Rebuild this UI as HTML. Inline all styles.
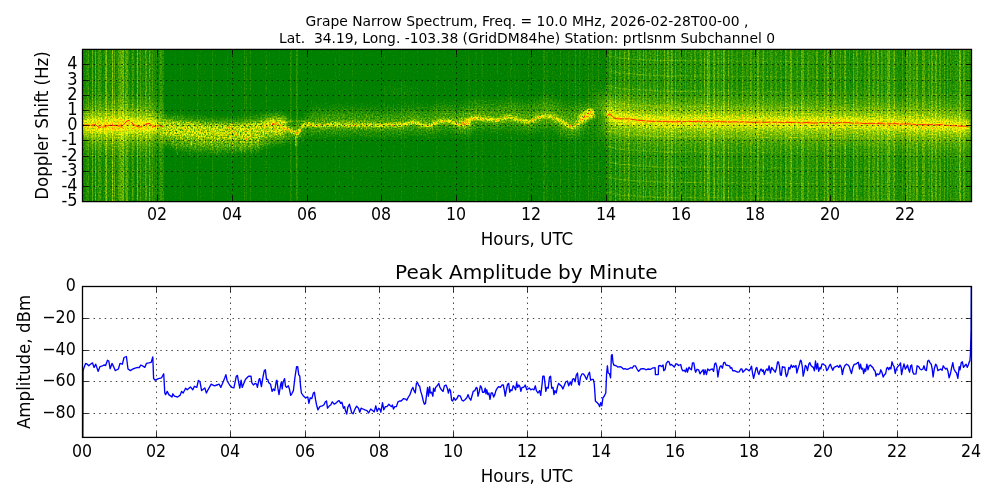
<!DOCTYPE html>
<html lang="en"><head><meta charset="utf-8"><title>Grape Narrow Spectrum</title>
<style>html,body{margin:0;padding:0;background:#fff;overflow:hidden}svg{display:block;will-change:transform}text{font-family:"DejaVu Sans","Liberation Sans",sans-serif;fill:#000}.t10{font-size:13.86px}.t12{font-size:16.67px}.t14{font-size:20px}.grid{stroke:#000;stroke-width:0.75;stroke-dasharray:1.39 4.17;fill:none}.tick{stroke:#000;stroke-width:0.8;fill:none}.spine{stroke:#000;stroke-width:1.3;fill:none}</style></head><body>
<svg width="1000" height="500" viewBox="0 0 1000 500">
<rect width="1000" height="500" fill="#fff"/>
<text class="t10" transform="translate(527.00,25.80)" text-anchor="middle" xml:space="preserve">Grape Narrow Spectrum, Freq. = 10.0 MHz, 2026-02-28T00-00 ,</text>
<text class="t10" transform="translate(527.00,42.80)" text-anchor="middle" xml:space="preserve">Lat.  34.19, Long. -103.38 (GridDM84he) Station: prtlsnm Subchannel 0</text>
<defs>
<clipPath id="c1"><rect x="82" y="49" width="890" height="153"/></clipPath>
<filter id="b1" x="52" y="19" width="950" height="213" filterUnits="userSpaceOnUse" color-interpolation-filters="sRGB"><feGaussianBlur stdDeviation="0.7"/></filter>
<filter id="b2" x="52" y="19" width="950" height="213" filterUnits="userSpaceOnUse" color-interpolation-filters="sRGB"><feGaussianBlur stdDeviation="1.8"/></filter>
<filter id="b3" x="52" y="19" width="950" height="213" filterUnits="userSpaceOnUse" color-interpolation-filters="sRGB"><feGaussianBlur stdDeviation="4.0"/></filter>
<filter id="b4" x="52" y="19" width="950" height="213" filterUnits="userSpaceOnUse" color-interpolation-filters="sRGB"><feGaussianBlur stdDeviation="7.5"/></filter>
<filter id="gr" x="82" y="49" width="890" height="153" filterUnits="userSpaceOnUse" color-interpolation-filters="sRGB"><feTurbulence type="fractalNoise" baseFrequency="0.62 0.55" numOctaves="2" seed="9" result="t"/><feColorMatrix in="t" type="matrix" values="0 0 0 0 1  0 0 0 0 1  0 0 0 0 1  1.6 0 0 0 -0.1" result="na"/><feComposite in="SourceGraphic" in2="na" operator="in"/></filter>
<filter id="cm" x="82" y="49" width="890" height="153" filterUnits="userSpaceOnUse" color-interpolation-filters="sRGB">
<feTurbulence type="fractalNoise" baseFrequency="0.71 0.67" numOctaves="1" seed="5" result="t"/>
<feColorMatrix in="t" type="matrix" values="1 0 0 0 0  1 0 0 0 0  1 0 0 0 0  0 0 0 0 1" result="n"/>
<feComposite in="SourceGraphic" in2="n" operator="arithmetic" k1="1.300" k2="0.350" k3="0.170" k4="-0.107" result="v"/>
<feComponentTransfer in="v"><feFuncR type="table" tableValues="0 0.5 1 1 1"/><feFuncG type="table" tableValues="0.502 0.75 1 0.5 0"/><feFuncB type="table" tableValues="0 0 0 0 0"/><feFuncA type="linear" slope="0" intercept="1"/></feComponentTransfer>
</filter>
</defs>
<g id="spec" clip-path="url(#c1)"><g filter="url(#cm)">
<rect x="80" y="47" width="894" height="157" fill="#000"/>
<rect x="82" y="49" width="1" height="153" fill="#0c0c0c"/>
<rect x="83" y="49" width="1" height="153" fill="#101010"/>
<rect x="84" y="49" width="2" height="153" fill="#0f0f0f"/>
<rect x="86" y="49" width="1" height="153" fill="#181818"/>
<rect x="87" y="49" width="1" height="153" fill="#171717"/>
<rect x="88" y="49" width="1" height="153" fill="#222222"/>
<rect x="89" y="49" width="1" height="153" fill="#060606"/>
<rect x="90" y="49" width="2" height="153" fill="#0d0d0d"/>
<rect x="92" y="49" width="1" height="153" fill="#343434"/>
<rect x="93" y="49" width="1" height="153" fill="#0e0e0e"/>
<rect x="94" y="49" width="1" height="153" fill="#0d0d0d"/>
<rect x="95" y="49" width="1" height="153" fill="#363636"/>
<rect x="96" y="49" width="1" height="153" fill="#0f0f0f"/>
<rect x="97" y="49" width="1" height="153" fill="#121212"/>
<rect x="98" y="49" width="1" height="153" fill="#232323"/>
<rect x="99" y="49" width="1" height="153" fill="#252525"/>
<rect x="100" y="49" width="1" height="153" fill="#232323"/>
<rect x="101" y="49" width="1" height="153" fill="#171717"/>
<rect x="102" y="49" width="1" height="153" fill="#090909"/>
<rect x="103" y="49" width="2" height="153" fill="#131313"/>
<rect x="105" y="49" width="1" height="153" fill="#333333"/>
<rect x="106" y="49" width="1" height="153" fill="#444444"/>
<rect x="107" y="49" width="1" height="153" fill="#131313"/>
<rect x="108" y="49" width="1" height="153" fill="#141414"/>
<rect x="109" y="49" width="1" height="153" fill="#161616"/>
<rect x="110" y="49" width="1" height="153" fill="#171717"/>
<rect x="111" y="49" width="1" height="153" fill="#161616"/>
<rect x="112" y="49" width="1" height="153" fill="#484848"/>
<rect x="113" y="49" width="1" height="153" fill="#131313"/>
<rect x="114" y="49" width="1" height="153" fill="#303030"/>
<rect x="115" y="49" width="1" height="153" fill="#0d0d0d"/>
<rect x="116" y="49" width="1" height="153" fill="#181818"/>
<rect x="117" y="49" width="1" height="153" fill="#171717"/>
<rect x="118" y="49" width="1" height="153" fill="#262626"/>
<rect x="119" y="49" width="1" height="153" fill="#2a2a2a"/>
<rect x="120" y="49" width="1" height="153" fill="#323232"/>
<rect x="121" y="49" width="1" height="153" fill="#333333"/>
<rect x="122" y="49" width="1" height="153" fill="#393939"/>
<rect x="123" y="49" width="1" height="153" fill="#3f3f3f"/>
<rect x="124" y="49" width="1" height="153" fill="#121212"/>
<rect x="125" y="49" width="1" height="153" fill="#272727"/>
<rect x="126" y="49" width="1" height="153" fill="#323232"/>
<rect x="127" y="49" width="1" height="153" fill="#303030"/>
<rect x="128" y="49" width="1" height="153" fill="#171717"/>
<rect x="129" y="49" width="1" height="153" fill="#131313"/>
<rect x="130" y="49" width="1" height="153" fill="#090909"/>
<rect x="131" y="49" width="1" height="153" fill="#131313"/>
<rect x="132" y="49" width="1" height="153" fill="#272727"/>
<rect x="133" y="49" width="1" height="153" fill="#1e1e1e"/>
<rect x="134" y="49" width="1" height="153" fill="#0e0e0e"/>
<rect x="135" y="49" width="1" height="153" fill="#040404"/>
<rect x="136" y="49" width="1" height="153" fill="#121212"/>
<rect x="137" y="49" width="1" height="153" fill="#3f3f3f"/>
<rect x="138" y="49" width="1" height="153" fill="#121212"/>
<rect x="139" y="49" width="1" height="153" fill="#131313"/>
<rect x="140" y="49" width="1" height="153" fill="#282828"/>
<rect x="141" y="49" width="1" height="153" fill="#101010"/>
<rect x="142" y="49" width="1" height="153" fill="#141414"/>
<rect x="143" y="49" width="1" height="153" fill="#171717"/>
<rect x="144" y="49" width="1" height="153" fill="#121212"/>
<rect x="145" y="49" width="1" height="153" fill="#2b2b2b"/>
<rect x="146" y="49" width="1" height="153" fill="#292929"/>
<rect x="147" y="49" width="1" height="153" fill="#111111"/>
<rect x="148" y="49" width="1" height="153" fill="#101010"/>
<rect x="149" y="49" width="1" height="153" fill="#353535"/>
<rect x="150" y="49" width="1" height="153" fill="#1d1d1d"/>
<rect x="151" y="49" width="1" height="153" fill="#141414"/>
<rect x="152" y="49" width="1" height="153" fill="#262626"/>
<rect x="153" y="49" width="1" height="153" fill="#0f0f0f"/>
<rect x="154" y="49" width="1" height="153" fill="#171717"/>
<rect x="155" y="49" width="1" height="153" fill="#0f0f0f"/>
<rect x="156" y="49" width="1" height="153" fill="#141414"/>
<rect x="157" y="49" width="2" height="153" fill="#090909"/>
<rect x="159" y="49" width="1" height="153" fill="#191919"/>
<rect x="160" y="49" width="1" height="153" fill="#212121"/>
<rect x="161" y="49" width="1" height="153" fill="#202020"/>
<rect x="162" y="49" width="1" height="153" fill="#171717"/>
<rect x="163" y="49" width="1" height="153" fill="#151515"/>
<rect x="164" y="49" width="1" height="153" fill="#030303"/>
<rect x="165" y="49" width="1" height="153" fill="#020202"/>
<rect x="166" y="49" width="2" height="153" fill="#010101"/>
<rect x="168" y="49" width="1" height="153" fill="#020202"/>
<rect x="169" y="49" width="1" height="153" fill="#010101"/>
<rect x="170" y="49" width="2" height="153" fill="#030303"/>
<rect x="172" y="49" width="1" height="153" fill="#020202"/>
<rect x="173" y="49" width="1" height="153" fill="#010101"/>
<rect x="174" y="49" width="1" height="153" fill="#030303"/>
<rect x="175" y="49" width="1" height="153" fill="#080808"/>
<rect x="176" y="49" width="2" height="153" fill="#020202"/>
<rect x="178" y="49" width="1" height="153" fill="#030303"/>
<rect x="179" y="49" width="1" height="153" fill="#020202"/>
<rect x="180" y="49" width="1" height="153" fill="#090909"/>
<rect x="181" y="49" width="1" height="153" fill="#020202"/>
<rect x="182" y="49" width="1" height="153" fill="#0a0a0a"/>
<rect x="183" y="49" width="1" height="153" fill="#020202"/>
<rect x="184" y="49" width="1" height="153" fill="#030303"/>
<rect x="185" y="49" width="2" height="153" fill="#020202"/>
<rect x="187" y="49" width="1" height="153" fill="#010101"/>
<rect x="188" y="49" width="1" height="153" fill="#030303"/>
<rect x="189" y="49" width="1" height="153" fill="#010101"/>
<rect x="190" y="49" width="1" height="153" fill="#030303"/>
<rect x="191" y="49" width="1" height="153" fill="#020202"/>
<rect x="192" y="49" width="1" height="153" fill="#060606"/>
<rect x="193" y="49" width="1" height="153" fill="#030303"/>
<rect x="194" y="49" width="2" height="153" fill="#010101"/>
<rect x="196" y="49" width="1" height="153" fill="#030303"/>
<rect x="197" y="49" width="1" height="153" fill="#0c0c0c"/>
<rect x="198" y="49" width="1" height="153" fill="#080808"/>
<rect x="199" y="49" width="1" height="153" fill="#010101"/>
<rect x="200" y="49" width="1" height="153" fill="#090909"/>
<rect x="201" y="49" width="2" height="153" fill="#020202"/>
<rect x="203" y="49" width="2" height="153" fill="#030303"/>
<rect x="205" y="49" width="1" height="153" fill="#060606"/>
<rect x="206" y="49" width="1" height="153" fill="#020202"/>
<rect x="207" y="49" width="1" height="153" fill="#010101"/>
<rect x="208" y="49" width="1" height="153" fill="#020202"/>
<rect x="209" y="49" width="1" height="153" fill="#010101"/>
<rect x="210" y="49" width="2" height="153" fill="#020202"/>
<rect x="212" y="49" width="1" height="153" fill="#101010"/>
<rect x="213" y="49" width="2" height="153" fill="#020202"/>
<rect x="215" y="49" width="1" height="153" fill="#030303"/>
<rect x="216" y="49" width="1" height="153" fill="#020202"/>
<rect x="217" y="49" width="1" height="153" fill="#030303"/>
<rect x="218" y="49" width="1" height="153" fill="#020202"/>
<rect x="219" y="49" width="2" height="153" fill="#010101"/>
<rect x="221" y="49" width="1" height="153" fill="#030303"/>
<rect x="222" y="49" width="1" height="153" fill="#010101"/>
<rect x="223" y="49" width="2" height="153" fill="#030303"/>
<rect x="225" y="49" width="1" height="153" fill="#020202"/>
<rect x="226" y="49" width="1" height="153" fill="#010101"/>
<rect x="227" y="49" width="1" height="153" fill="#0c0c0c"/>
<rect x="228" y="49" width="1" height="153" fill="#020202"/>
<rect x="229" y="49" width="1" height="153" fill="#030303"/>
<rect x="230" y="49" width="1" height="153" fill="#010101"/>
<rect x="231" y="49" width="2" height="153" fill="#090909"/>
<rect x="233" y="49" width="1" height="153" fill="#020202"/>
<rect x="234" y="49" width="1" height="153" fill="#010101"/>
<rect x="235" y="49" width="3" height="153" fill="#020202"/>
<rect x="238" y="49" width="1" height="153" fill="#010101"/>
<rect x="239" y="49" width="2" height="153" fill="#020202"/>
<rect x="241" y="49" width="1" height="153" fill="#090909"/>
<rect x="242" y="49" width="1" height="153" fill="#010101"/>
<rect x="243" y="49" width="1" height="153" fill="#020202"/>
<rect x="244" y="49" width="1" height="153" fill="#151515"/>
<rect x="245" y="49" width="1" height="153" fill="#030303"/>
<rect x="246" y="49" width="1" height="153" fill="#101010"/>
<rect x="247" y="49" width="1" height="153" fill="#030303"/>
<rect x="248" y="49" width="1" height="153" fill="#020202"/>
<rect x="249" y="49" width="1" height="153" fill="#030303"/>
<rect x="250" y="49" width="1" height="153" fill="#131313"/>
<rect x="251" y="49" width="10" height="153" fill="#020202"/>
<rect x="261" y="49" width="1" height="153" fill="#070707"/>
<rect x="262" y="49" width="1" height="153" fill="#020202"/>
<rect x="263" y="49" width="1" height="153" fill="#010101"/>
<rect x="264" y="49" width="1" height="153" fill="#030303"/>
<rect x="265" y="49" width="1" height="153" fill="#090909"/>
<rect x="266" y="49" width="1" height="153" fill="#0f0f0f"/>
<rect x="267" y="49" width="2" height="153" fill="#020202"/>
<rect x="269" y="49" width="1" height="153" fill="#090909"/>
<rect x="270" y="49" width="1" height="153" fill="#010101"/>
<rect x="271" y="49" width="2" height="153" fill="#020202"/>
<rect x="273" y="49" width="1" height="153" fill="#030303"/>
<rect x="274" y="49" width="1" height="153" fill="#010101"/>
<rect x="275" y="49" width="3" height="153" fill="#020202"/>
<rect x="278" y="49" width="1" height="153" fill="#010101"/>
<rect x="279" y="49" width="1" height="153" fill="#060606"/>
<rect x="280" y="49" width="4" height="153" fill="#020202"/>
<rect x="284" y="49" width="2" height="153" fill="#030303"/>
<rect x="286" y="49" width="2" height="153" fill="#010101"/>
<rect x="288" y="49" width="1" height="153" fill="#020202"/>
<rect x="289" y="49" width="1" height="153" fill="#030303"/>
<rect x="290" y="49" width="1" height="153" fill="#151515"/>
<rect x="291" y="49" width="1" height="153" fill="#0e0e0e"/>
<rect x="292" y="49" width="2" height="153" fill="#010101"/>
<rect x="294" y="49" width="2" height="153" fill="#020202"/>
<rect x="296" y="49" width="1" height="153" fill="#1a1a1a"/>
<rect x="297" y="49" width="1" height="153" fill="#131313"/>
<rect x="298" y="49" width="1" height="153" fill="#010101"/>
<rect x="299" y="49" width="2" height="153" fill="#020202"/>
<rect x="301" y="49" width="3" height="153" fill="#010101"/>
<rect x="304" y="49" width="4" height="153" fill="#020202"/>
<rect x="308" y="49" width="1" height="153" fill="#010101"/>
<rect x="309" y="49" width="1" height="153" fill="#020202"/>
<rect x="310" y="49" width="1" height="153" fill="#010101"/>
<rect x="311" y="49" width="1" height="153" fill="#060606"/>
<rect x="312" y="49" width="1" height="153" fill="#020202"/>
<rect x="313" y="49" width="1" height="153" fill="#030303"/>
<rect x="314" y="49" width="3" height="153" fill="#020202"/>
<rect x="317" y="49" width="1" height="153" fill="#010101"/>
<rect x="318" y="49" width="1" height="153" fill="#020202"/>
<rect x="319" y="49" width="2" height="153" fill="#030303"/>
<rect x="321" y="49" width="2" height="153" fill="#010101"/>
<rect x="323" y="49" width="1" height="153" fill="#030303"/>
<rect x="324" y="49" width="1" height="153" fill="#020202"/>
<rect x="325" y="49" width="1" height="153" fill="#030303"/>
<rect x="326" y="49" width="4" height="153" fill="#020202"/>
<rect x="330" y="49" width="1" height="153" fill="#010101"/>
<rect x="331" y="49" width="1" height="153" fill="#020202"/>
<rect x="332" y="49" width="2" height="153" fill="#030303"/>
<rect x="334" y="49" width="1" height="153" fill="#020202"/>
<rect x="335" y="49" width="1" height="153" fill="#090909"/>
<rect x="336" y="49" width="1" height="153" fill="#030303"/>
<rect x="337" y="49" width="2" height="153" fill="#020202"/>
<rect x="339" y="49" width="1" height="153" fill="#090909"/>
<rect x="340" y="49" width="1" height="153" fill="#030303"/>
<rect x="341" y="49" width="1" height="153" fill="#020202"/>
<rect x="342" y="49" width="1" height="153" fill="#050505"/>
<rect x="343" y="49" width="2" height="153" fill="#020202"/>
<rect x="345" y="49" width="1" height="153" fill="#010101"/>
<rect x="346" y="49" width="1" height="153" fill="#020202"/>
<rect x="347" y="49" width="1" height="153" fill="#070707"/>
<rect x="348" y="49" width="1" height="153" fill="#020202"/>
<rect x="349" y="49" width="1" height="153" fill="#030303"/>
<rect x="350" y="49" width="2" height="153" fill="#020202"/>
<rect x="352" y="49" width="1" height="153" fill="#0b0b0b"/>
<rect x="353" y="49" width="2" height="153" fill="#020202"/>
<rect x="355" y="49" width="1" height="153" fill="#030303"/>
<rect x="356" y="49" width="2" height="153" fill="#020202"/>
<rect x="358" y="49" width="2" height="153" fill="#010101"/>
<rect x="360" y="49" width="1" height="153" fill="#020202"/>
<rect x="361" y="49" width="1" height="153" fill="#060606"/>
<rect x="362" y="49" width="1" height="153" fill="#020202"/>
<rect x="363" y="49" width="1" height="153" fill="#010101"/>
<rect x="364" y="49" width="1" height="153" fill="#030303"/>
<rect x="365" y="49" width="1" height="153" fill="#010101"/>
<rect x="366" y="49" width="1" height="153" fill="#030303"/>
<rect x="367" y="49" width="2" height="153" fill="#020202"/>
<rect x="369" y="49" width="2" height="153" fill="#030303"/>
<rect x="371" y="49" width="1" height="153" fill="#020202"/>
<rect x="372" y="49" width="1" height="153" fill="#030303"/>
<rect x="373" y="49" width="1" height="153" fill="#010101"/>
<rect x="374" y="49" width="1" height="153" fill="#030303"/>
<rect x="375" y="49" width="3" height="153" fill="#020202"/>
<rect x="378" y="49" width="1" height="153" fill="#010101"/>
<rect x="379" y="49" width="1" height="153" fill="#030303"/>
<rect x="380" y="49" width="1" height="153" fill="#020202"/>
<rect x="381" y="49" width="2" height="153" fill="#010101"/>
<rect x="383" y="49" width="1" height="153" fill="#020202"/>
<rect x="384" y="49" width="1" height="153" fill="#080808"/>
<rect x="385" y="49" width="1" height="153" fill="#010101"/>
<rect x="386" y="49" width="2" height="153" fill="#020202"/>
<rect x="388" y="49" width="1" height="153" fill="#010101"/>
<rect x="389" y="49" width="1" height="153" fill="#030303"/>
<rect x="390" y="49" width="3" height="153" fill="#020202"/>
<rect x="393" y="49" width="1" height="153" fill="#070707"/>
<rect x="394" y="49" width="1" height="153" fill="#030303"/>
<rect x="395" y="49" width="1" height="153" fill="#010101"/>
<rect x="396" y="49" width="1" height="153" fill="#020202"/>
<rect x="397" y="49" width="1" height="153" fill="#030303"/>
<rect x="398" y="49" width="1" height="153" fill="#010101"/>
<rect x="399" y="49" width="1" height="153" fill="#020202"/>
<rect x="400" y="49" width="1" height="153" fill="#030303"/>
<rect x="401" y="49" width="1" height="153" fill="#0b0b0b"/>
<rect x="402" y="49" width="2" height="153" fill="#020202"/>
<rect x="404" y="49" width="1" height="153" fill="#080808"/>
<rect x="405" y="49" width="1" height="153" fill="#020202"/>
<rect x="406" y="49" width="1" height="153" fill="#030303"/>
<rect x="407" y="49" width="1" height="153" fill="#020202"/>
<rect x="408" y="49" width="1" height="153" fill="#010101"/>
<rect x="409" y="49" width="1" height="153" fill="#020202"/>
<rect x="410" y="49" width="1" height="153" fill="#030303"/>
<rect x="411" y="49" width="2" height="153" fill="#020202"/>
<rect x="413" y="49" width="1" height="153" fill="#080808"/>
<rect x="414" y="49" width="1" height="153" fill="#010101"/>
<rect x="415" y="49" width="2" height="153" fill="#020202"/>
<rect x="417" y="49" width="1" height="153" fill="#0a0a0a"/>
<rect x="418" y="49" width="1" height="153" fill="#010101"/>
<rect x="419" y="49" width="1" height="153" fill="#030303"/>
<rect x="420" y="49" width="1" height="153" fill="#010101"/>
<rect x="421" y="49" width="1" height="153" fill="#030303"/>
<rect x="422" y="49" width="1" height="153" fill="#020202"/>
<rect x="423" y="49" width="1" height="153" fill="#030303"/>
<rect x="424" y="49" width="1" height="153" fill="#020202"/>
<rect x="425" y="49" width="1" height="153" fill="#010101"/>
<rect x="426" y="49" width="2" height="153" fill="#030303"/>
<rect x="428" y="49" width="1" height="153" fill="#020202"/>
<rect x="429" y="49" width="1" height="153" fill="#030303"/>
<rect x="430" y="49" width="2" height="153" fill="#020202"/>
<rect x="432" y="49" width="2" height="153" fill="#030303"/>
<rect x="434" y="49" width="2" height="153" fill="#020202"/>
<rect x="436" y="49" width="1" height="153" fill="#0a0a0a"/>
<rect x="437" y="49" width="1" height="153" fill="#060606"/>
<rect x="438" y="49" width="3" height="153" fill="#030303"/>
<rect x="441" y="49" width="3" height="153" fill="#020202"/>
<rect x="444" y="49" width="1" height="153" fill="#080808"/>
<rect x="445" y="49" width="2" height="153" fill="#030303"/>
<rect x="447" y="49" width="1" height="153" fill="#040404"/>
<rect x="448" y="49" width="1" height="153" fill="#020202"/>
<rect x="449" y="49" width="3" height="153" fill="#030303"/>
<rect x="452" y="49" width="1" height="153" fill="#040404"/>
<rect x="453" y="49" width="1" height="153" fill="#030303"/>
<rect x="454" y="49" width="1" height="153" fill="#060606"/>
<rect x="455" y="49" width="1" height="153" fill="#070707"/>
<rect x="456" y="49" width="2" height="153" fill="#020202"/>
<rect x="458" y="49" width="4" height="153" fill="#030303"/>
<rect x="462" y="49" width="1" height="153" fill="#040404"/>
<rect x="463" y="49" width="2" height="153" fill="#030303"/>
<rect x="465" y="49" width="1" height="153" fill="#0a0a0a"/>
<rect x="466" y="49" width="1" height="153" fill="#030303"/>
<rect x="467" y="49" width="1" height="153" fill="#040404"/>
<rect x="468" y="49" width="1" height="153" fill="#0e0e0e"/>
<rect x="469" y="49" width="1" height="153" fill="#090909"/>
<rect x="470" y="49" width="5" height="153" fill="#040404"/>
<rect x="475" y="49" width="1" height="153" fill="#0c0c0c"/>
<rect x="476" y="49" width="1" height="153" fill="#0b0b0b"/>
<rect x="477" y="49" width="3" height="153" fill="#030303"/>
<rect x="480" y="49" width="1" height="153" fill="#040404"/>
<rect x="481" y="49" width="1" height="153" fill="#080808"/>
<rect x="482" y="49" width="1" height="153" fill="#0e0e0e"/>
<rect x="483" y="49" width="1" height="153" fill="#050505"/>
<rect x="484" y="49" width="1" height="153" fill="#030303"/>
<rect x="485" y="49" width="1" height="153" fill="#040404"/>
<rect x="486" y="49" width="1" height="153" fill="#050505"/>
<rect x="487" y="49" width="1" height="153" fill="#030303"/>
<rect x="488" y="49" width="2" height="153" fill="#040404"/>
<rect x="490" y="49" width="2" height="153" fill="#050505"/>
<rect x="492" y="49" width="1" height="153" fill="#040404"/>
<rect x="493" y="49" width="1" height="153" fill="#050505"/>
<rect x="494" y="49" width="3" height="153" fill="#040404"/>
<rect x="497" y="49" width="1" height="153" fill="#0c0c0c"/>
<rect x="498" y="49" width="1" height="153" fill="#050505"/>
<rect x="499" y="49" width="2" height="153" fill="#040404"/>
<rect x="501" y="49" width="2" height="153" fill="#050505"/>
<rect x="503" y="49" width="2" height="153" fill="#040404"/>
<rect x="505" y="49" width="2" height="153" fill="#050505"/>
<rect x="507" y="49" width="1" height="153" fill="#040404"/>
<rect x="508" y="49" width="1" height="153" fill="#050505"/>
<rect x="509" y="49" width="1" height="153" fill="#040404"/>
<rect x="510" y="49" width="1" height="153" fill="#0d0d0d"/>
<rect x="511" y="49" width="1" height="153" fill="#0c0c0c"/>
<rect x="512" y="49" width="1" height="153" fill="#040404"/>
<rect x="513" y="49" width="1" height="153" fill="#050505"/>
<rect x="514" y="49" width="1" height="153" fill="#060606"/>
<rect x="515" y="49" width="1" height="153" fill="#0a0a0a"/>
<rect x="516" y="49" width="1" height="153" fill="#040404"/>
<rect x="517" y="49" width="1" height="153" fill="#0a0a0a"/>
<rect x="518" y="49" width="1" height="153" fill="#060606"/>
<rect x="519" y="49" width="3" height="153" fill="#050505"/>
<rect x="522" y="49" width="1" height="153" fill="#060606"/>
<rect x="523" y="49" width="5" height="153" fill="#050505"/>
<rect x="528" y="49" width="1" height="153" fill="#0d0d0d"/>
<rect x="529" y="49" width="1" height="153" fill="#050505"/>
<rect x="530" y="49" width="1" height="153" fill="#060606"/>
<rect x="531" y="49" width="1" height="153" fill="#050505"/>
<rect x="532" y="49" width="2" height="153" fill="#060606"/>
<rect x="534" y="49" width="1" height="153" fill="#070707"/>
<rect x="535" y="49" width="1" height="153" fill="#060606"/>
<rect x="536" y="49" width="1" height="153" fill="#050505"/>
<rect x="537" y="49" width="1" height="153" fill="#070707"/>
<rect x="538" y="49" width="2" height="153" fill="#060606"/>
<rect x="540" y="49" width="1" height="153" fill="#070707"/>
<rect x="541" y="49" width="1" height="153" fill="#050505"/>
<rect x="542" y="49" width="1" height="153" fill="#060606"/>
<rect x="543" y="49" width="1" height="153" fill="#131313"/>
<rect x="544" y="49" width="1" height="153" fill="#141414"/>
<rect x="545" y="49" width="1" height="153" fill="#060606"/>
<rect x="546" y="49" width="1" height="153" fill="#0e0e0e"/>
<rect x="547" y="49" width="1" height="153" fill="#0d0d0d"/>
<rect x="548" y="49" width="1" height="153" fill="#080808"/>
<rect x="549" y="49" width="1" height="153" fill="#060606"/>
<rect x="550" y="49" width="1" height="153" fill="#070707"/>
<rect x="551" y="49" width="1" height="153" fill="#060606"/>
<rect x="552" y="49" width="1" height="153" fill="#0e0e0e"/>
<rect x="553" y="49" width="1" height="153" fill="#060606"/>
<rect x="554" y="49" width="2" height="153" fill="#080808"/>
<rect x="556" y="49" width="1" height="153" fill="#060606"/>
<rect x="557" y="49" width="3" height="153" fill="#070707"/>
<rect x="560" y="49" width="1" height="153" fill="#131313"/>
<rect x="561" y="49" width="1" height="153" fill="#060606"/>
<rect x="562" y="49" width="1" height="153" fill="#080808"/>
<rect x="563" y="49" width="2" height="153" fill="#070707"/>
<rect x="565" y="49" width="2" height="153" fill="#080808"/>
<rect x="567" y="49" width="1" height="153" fill="#070707"/>
<rect x="568" y="49" width="1" height="153" fill="#121212"/>
<rect x="569" y="49" width="1" height="153" fill="#090909"/>
<rect x="570" y="49" width="4" height="153" fill="#080808"/>
<rect x="574" y="49" width="1" height="153" fill="#090909"/>
<rect x="575" y="49" width="1" height="153" fill="#181818"/>
<rect x="576" y="49" width="1" height="153" fill="#070707"/>
<rect x="577" y="49" width="2" height="153" fill="#080808"/>
<rect x="579" y="49" width="1" height="153" fill="#121212"/>
<rect x="580" y="49" width="1" height="153" fill="#0d0d0d"/>
<rect x="581" y="49" width="4" height="153" fill="#080808"/>
<rect x="585" y="49" width="2" height="153" fill="#090909"/>
<rect x="587" y="49" width="1" height="153" fill="#080808"/>
<rect x="588" y="49" width="1" height="153" fill="#171717"/>
<rect x="589" y="49" width="2" height="153" fill="#090909"/>
<rect x="591" y="49" width="1" height="153" fill="#0a0a0a"/>
<rect x="592" y="49" width="1" height="153" fill="#131313"/>
<rect x="593" y="49" width="1" height="153" fill="#0a0a0a"/>
<rect x="594" y="49" width="1" height="153" fill="#080808"/>
<rect x="595" y="49" width="2" height="153" fill="#0a0a0a"/>
<rect x="597" y="49" width="1" height="153" fill="#080808"/>
<rect x="598" y="49" width="1" height="153" fill="#131313"/>
<rect x="599" y="49" width="1" height="153" fill="#0a0a0a"/>
<rect x="600" y="49" width="1" height="153" fill="#090909"/>
<rect x="601" y="49" width="1" height="153" fill="#080808"/>
<rect x="602" y="49" width="1" height="153" fill="#0a0a0a"/>
<rect x="603" y="49" width="2" height="153" fill="#090909"/>
<rect x="605" y="49" width="1" height="153" fill="#080808"/>
<rect x="606" y="49" width="1" height="153" fill="#171717"/>
<rect x="607" y="49" width="1" height="153" fill="#101010"/>
<rect x="608" y="49" width="1" height="153" fill="#0f0f0f"/>
<rect x="609" y="49" width="1" height="153" fill="#232323"/>
<rect x="610" y="49" width="1" height="153" fill="#222222"/>
<rect x="611" y="49" width="1" height="153" fill="#212121"/>
<rect x="612" y="49" width="1" height="153" fill="#0e0e0e"/>
<rect x="613" y="49" width="1" height="153" fill="#121212"/>
<rect x="614" y="49" width="1" height="153" fill="#0e0e0e"/>
<rect x="615" y="49" width="1" height="153" fill="#303030"/>
<rect x="616" y="49" width="1" height="153" fill="#151515"/>
<rect x="617" y="49" width="1" height="153" fill="#141414"/>
<rect x="618" y="49" width="1" height="153" fill="#131313"/>
<rect x="619" y="49" width="1" height="153" fill="#282828"/>
<rect x="620" y="49" width="1" height="153" fill="#202020"/>
<rect x="621" y="49" width="2" height="153" fill="#151515"/>
<rect x="623" y="49" width="1" height="153" fill="#161616"/>
<rect x="624" y="49" width="1" height="153" fill="#2e2e2e"/>
<rect x="625" y="49" width="2" height="153" fill="#181818"/>
<rect x="627" y="49" width="1" height="153" fill="#171717"/>
<rect x="628" y="49" width="1" height="153" fill="#323232"/>
<rect x="629" y="49" width="1" height="153" fill="#2b2b2b"/>
<rect x="630" y="49" width="2" height="153" fill="#0f0f0f"/>
<rect x="632" y="49" width="1" height="153" fill="#181818"/>
<rect x="633" y="49" width="2" height="153" fill="#1d1d1d"/>
<rect x="635" y="49" width="1" height="153" fill="#141414"/>
<rect x="636" y="49" width="1" height="153" fill="#111111"/>
<rect x="637" y="49" width="1" height="153" fill="#292929"/>
<rect x="638" y="49" width="1" height="153" fill="#171717"/>
<rect x="639" y="49" width="2" height="153" fill="#232323"/>
<rect x="641" y="49" width="1" height="153" fill="#151515"/>
<rect x="642" y="49" width="1" height="153" fill="#141414"/>
<rect x="643" y="49" width="1" height="153" fill="#313131"/>
<rect x="644" y="49" width="1" height="153" fill="#111111"/>
<rect x="645" y="49" width="1" height="153" fill="#232323"/>
<rect x="646" y="49" width="1" height="153" fill="#242424"/>
<rect x="647" y="49" width="1" height="153" fill="#111111"/>
<rect x="648" y="49" width="1" height="153" fill="#131313"/>
<rect x="649" y="49" width="1" height="153" fill="#242424"/>
<rect x="650" y="49" width="1" height="153" fill="#232323"/>
<rect x="651" y="49" width="1" height="153" fill="#141414"/>
<rect x="652" y="49" width="1" height="153" fill="#151515"/>
<rect x="653" y="49" width="1" height="153" fill="#1d1d1d"/>
<rect x="654" y="49" width="1" height="153" fill="#252525"/>
<rect x="655" y="49" width="1" height="153" fill="#1f1f1f"/>
<rect x="656" y="49" width="1" height="153" fill="#151515"/>
<rect x="657" y="49" width="1" height="153" fill="#323232"/>
<rect x="658" y="49" width="1" height="153" fill="#131313"/>
<rect x="659" y="49" width="1" height="153" fill="#121212"/>
<rect x="660" y="49" width="1" height="153" fill="#242424"/>
<rect x="661" y="49" width="1" height="153" fill="#161616"/>
<rect x="662" y="49" width="1" height="153" fill="#141414"/>
<rect x="663" y="49" width="1" height="153" fill="#161616"/>
<rect x="664" y="49" width="1" height="153" fill="#363636"/>
<rect x="665" y="49" width="1" height="153" fill="#131313"/>
<rect x="666" y="49" width="1" height="153" fill="#151515"/>
<rect x="667" y="49" width="1" height="153" fill="#353535"/>
<rect x="668" y="49" width="1" height="153" fill="#313131"/>
<rect x="669" y="49" width="1" height="153" fill="#1a1a1a"/>
<rect x="670" y="49" width="1" height="153" fill="#181818"/>
<rect x="671" y="49" width="1" height="153" fill="#363636"/>
<rect x="672" y="49" width="1" height="153" fill="#2d2d2d"/>
<rect x="673" y="49" width="1" height="153" fill="#101010"/>
<rect x="674" y="49" width="1" height="153" fill="#0e0e0e"/>
<rect x="675" y="49" width="1" height="153" fill="#323232"/>
<rect x="676" y="49" width="1" height="153" fill="#151515"/>
<rect x="677" y="49" width="1" height="153" fill="#181818"/>
<rect x="678" y="49" width="1" height="153" fill="#191919"/>
<rect x="679" y="49" width="1" height="153" fill="#1f1f1f"/>
<rect x="680" y="49" width="1" height="153" fill="#232323"/>
<rect x="681" y="49" width="1" height="153" fill="#1e1e1e"/>
<rect x="682" y="49" width="1" height="153" fill="#151515"/>
<rect x="683" y="49" width="1" height="153" fill="#161616"/>
<rect x="684" y="49" width="1" height="153" fill="#121212"/>
<rect x="685" y="49" width="1" height="153" fill="#292929"/>
<rect x="686" y="49" width="1" height="153" fill="#161616"/>
<rect x="687" y="49" width="1" height="153" fill="#181818"/>
<rect x="688" y="49" width="1" height="153" fill="#171717"/>
<rect x="689" y="49" width="1" height="153" fill="#151515"/>
<rect x="690" y="49" width="1" height="153" fill="#1f1f1f"/>
<rect x="691" y="49" width="1" height="153" fill="#222222"/>
<rect x="692" y="49" width="1" height="153" fill="#131313"/>
<rect x="693" y="49" width="1" height="153" fill="#0f0f0f"/>
<rect x="694" y="49" width="1" height="153" fill="#282828"/>
<rect x="695" y="49" width="1" height="153" fill="#2b2b2b"/>
<rect x="696" y="49" width="2" height="153" fill="#141414"/>
<rect x="698" y="49" width="1" height="153" fill="#151515"/>
<rect x="699" y="49" width="1" height="153" fill="#1d1d1d"/>
<rect x="700" y="49" width="1" height="153" fill="#262626"/>
<rect x="701" y="49" width="1" height="153" fill="#212121"/>
<rect x="702" y="49" width="2" height="153" fill="#121212"/>
<rect x="704" y="49" width="1" height="153" fill="#393939"/>
<rect x="705" y="49" width="1" height="153" fill="#181818"/>
<rect x="706" y="49" width="1" height="153" fill="#191919"/>
<rect x="707" y="49" width="1" height="153" fill="#3b3b3b"/>
<rect x="708" y="49" width="2" height="153" fill="#323232"/>
<rect x="710" y="49" width="2" height="153" fill="#131313"/>
<rect x="712" y="49" width="1" height="153" fill="#121212"/>
<rect x="713" y="49" width="1" height="153" fill="#2f2f2f"/>
<rect x="714" y="49" width="1" height="153" fill="#393939"/>
<rect x="715" y="49" width="1" height="153" fill="#121212"/>
<rect x="716" y="49" width="1" height="153" fill="#111111"/>
<rect x="717" y="49" width="1" height="153" fill="#282828"/>
<rect x="718" y="49" width="1" height="153" fill="#2a2a2a"/>
<rect x="719" y="49" width="1" height="153" fill="#191919"/>
<rect x="720" y="49" width="1" height="153" fill="#151515"/>
<rect x="721" y="49" width="1" height="153" fill="#262626"/>
<rect x="722" y="49" width="1" height="153" fill="#161616"/>
<rect x="723" y="49" width="1" height="153" fill="#3c3c3c"/>
<rect x="724" y="49" width="1" height="153" fill="#323232"/>
<rect x="725" y="49" width="2" height="153" fill="#121212"/>
<rect x="727" y="49" width="1" height="153" fill="#0f0f0f"/>
<rect x="728" y="49" width="1" height="153" fill="#353535"/>
<rect x="729" y="49" width="1" height="153" fill="#131313"/>
<rect x="730" y="49" width="1" height="153" fill="#121212"/>
<rect x="731" y="49" width="1" height="153" fill="#242424"/>
<rect x="732" y="49" width="1" height="153" fill="#232323"/>
<rect x="733" y="49" width="2" height="153" fill="#141414"/>
<rect x="735" y="49" width="1" height="153" fill="#111111"/>
<rect x="736" y="49" width="2" height="153" fill="#212121"/>
<rect x="738" y="49" width="1" height="153" fill="#101010"/>
<rect x="739" y="49" width="1" height="153" fill="#111111"/>
<rect x="740" y="49" width="1" height="153" fill="#121212"/>
<rect x="741" y="49" width="1" height="153" fill="#141414"/>
<rect x="742" y="49" width="1" height="153" fill="#303030"/>
<rect x="743" y="49" width="1" height="153" fill="#171717"/>
<rect x="744" y="49" width="2" height="153" fill="#181818"/>
<rect x="746" y="49" width="1" height="153" fill="#191919"/>
<rect x="747" y="49" width="1" height="153" fill="#222222"/>
<rect x="748" y="49" width="1" height="153" fill="#171717"/>
<rect x="749" y="49" width="1" height="153" fill="#161616"/>
<rect x="750" y="49" width="1" height="153" fill="#2e2e2e"/>
<rect x="751" y="49" width="1" height="153" fill="#282828"/>
<rect x="752" y="49" width="1" height="153" fill="#161616"/>
<rect x="753" y="49" width="1" height="153" fill="#171717"/>
<rect x="754" y="49" width="1" height="153" fill="#222222"/>
<rect x="755" y="49" width="1" height="153" fill="#1f1f1f"/>
<rect x="756" y="49" width="1" height="153" fill="#141414"/>
<rect x="757" y="49" width="1" height="153" fill="#333333"/>
<rect x="758" y="49" width="1" height="153" fill="#323232"/>
<rect x="759" y="49" width="3" height="153" fill="#161616"/>
<rect x="762" y="49" width="1" height="153" fill="#292929"/>
<rect x="763" y="49" width="1" height="153" fill="#303030"/>
<rect x="764" y="49" width="2" height="153" fill="#141414"/>
<rect x="766" y="49" width="1" height="153" fill="#171717"/>
<rect x="767" y="49" width="1" height="153" fill="#212121"/>
<rect x="768" y="49" width="1" height="153" fill="#131313"/>
<rect x="769" y="49" width="1" height="153" fill="#141414"/>
<rect x="770" y="49" width="1" height="153" fill="#202020"/>
<rect x="771" y="49" width="1" height="153" fill="#262626"/>
<rect x="772" y="49" width="1" height="153" fill="#1e1e1e"/>
<rect x="773" y="49" width="1" height="153" fill="#121212"/>
<rect x="774" y="49" width="1" height="153" fill="#131313"/>
<rect x="775" y="49" width="1" height="153" fill="#232323"/>
<rect x="776" y="49" width="1" height="153" fill="#222222"/>
<rect x="777" y="49" width="1" height="153" fill="#161616"/>
<rect x="778" y="49" width="1" height="153" fill="#151515"/>
<rect x="779" y="49" width="1" height="153" fill="#121212"/>
<rect x="780" y="49" width="1" height="153" fill="#232323"/>
<rect x="781" y="49" width="1" height="153" fill="#202020"/>
<rect x="782" y="49" width="1" height="153" fill="#0f0f0f"/>
<rect x="783" y="49" width="1" height="153" fill="#101010"/>
<rect x="784" y="49" width="1" height="153" fill="#0e0e0e"/>
<rect x="785" y="49" width="1" height="153" fill="#313131"/>
<rect x="786" y="49" width="1" height="153" fill="#252525"/>
<rect x="787" y="49" width="1" height="153" fill="#161616"/>
<rect x="788" y="49" width="1" height="153" fill="#181818"/>
<rect x="789" y="49" width="1" height="153" fill="#1b1b1b"/>
<rect x="790" y="49" width="1" height="153" fill="#323232"/>
<rect x="791" y="49" width="1" height="153" fill="#383838"/>
<rect x="792" y="49" width="2" height="153" fill="#171717"/>
<rect x="794" y="49" width="1" height="153" fill="#141414"/>
<rect x="795" y="49" width="1" height="153" fill="#151515"/>
<rect x="796" y="49" width="1" height="153" fill="#1f1f1f"/>
<rect x="797" y="49" width="1" height="153" fill="#252525"/>
<rect x="798" y="49" width="1" height="153" fill="#131313"/>
<rect x="799" y="49" width="1" height="153" fill="#151515"/>
<rect x="800" y="49" width="1" height="153" fill="#131313"/>
<rect x="801" y="49" width="1" height="153" fill="#353535"/>
<rect x="802" y="49" width="1" height="153" fill="#303030"/>
<rect x="803" y="49" width="1" height="153" fill="#2f2f2f"/>
<rect x="804" y="49" width="1" height="153" fill="#121212"/>
<rect x="805" y="49" width="1" height="153" fill="#151515"/>
<rect x="806" y="49" width="1" height="153" fill="#131313"/>
<rect x="807" y="49" width="1" height="153" fill="#242424"/>
<rect x="808" y="49" width="1" height="153" fill="#262626"/>
<rect x="809" y="49" width="1" height="153" fill="#1a1a1a"/>
<rect x="810" y="49" width="1" height="153" fill="#191919"/>
<rect x="811" y="49" width="1" height="153" fill="#181818"/>
<rect x="812" y="49" width="1" height="153" fill="#1f1f1f"/>
<rect x="813" y="49" width="1" height="153" fill="#1d1d1d"/>
<rect x="814" y="49" width="1" height="153" fill="#131313"/>
<rect x="815" y="49" width="1" height="153" fill="#141414"/>
<rect x="816" y="49" width="1" height="153" fill="#313131"/>
<rect x="817" y="49" width="1" height="153" fill="#2c2c2c"/>
<rect x="818" y="49" width="1" height="153" fill="#121212"/>
<rect x="819" y="49" width="1" height="153" fill="#0e0e0e"/>
<rect x="820" y="49" width="1" height="153" fill="#181818"/>
<rect x="821" y="49" width="1" height="153" fill="#141414"/>
<rect x="822" y="49" width="1" height="153" fill="#151515"/>
<rect x="823" y="49" width="1" height="153" fill="#161616"/>
<rect x="824" y="49" width="1" height="153" fill="#313131"/>
<rect x="825" y="49" width="2" height="153" fill="#181818"/>
<rect x="827" y="49" width="1" height="153" fill="#353535"/>
<rect x="828" y="49" width="1" height="153" fill="#323232"/>
<rect x="829" y="49" width="1" height="153" fill="#0e0e0e"/>
<rect x="830" y="49" width="1" height="153" fill="#191919"/>
<rect x="831" y="49" width="1" height="153" fill="#151515"/>
<rect x="832" y="49" width="1" height="153" fill="#141414"/>
<rect x="833" y="49" width="1" height="153" fill="#353535"/>
<rect x="834" y="49" width="1" height="153" fill="#323232"/>
<rect x="835" y="49" width="1" height="153" fill="#101010"/>
<rect x="836" y="49" width="1" height="153" fill="#222222"/>
<rect x="837" y="49" width="1" height="153" fill="#131313"/>
<rect x="838" y="49" width="2" height="153" fill="#161616"/>
<rect x="840" y="49" width="1" height="153" fill="#2b2b2b"/>
<rect x="841" y="49" width="1" height="153" fill="#111111"/>
<rect x="842" y="49" width="1" height="153" fill="#141414"/>
<rect x="843" y="49" width="1" height="153" fill="#111111"/>
<rect x="844" y="49" width="1" height="153" fill="#2f2f2f"/>
<rect x="845" y="49" width="1" height="153" fill="#353535"/>
<rect x="846" y="49" width="2" height="153" fill="#131313"/>
<rect x="848" y="49" width="1" height="153" fill="#121212"/>
<rect x="849" y="49" width="1" height="153" fill="#1c1c1c"/>
<rect x="850" y="49" width="1" height="153" fill="#0f0f0f"/>
<rect x="851" y="49" width="1" height="153" fill="#111111"/>
<rect x="852" y="49" width="1" height="153" fill="#101010"/>
<rect x="853" y="49" width="1" height="153" fill="#333333"/>
<rect x="854" y="49" width="2" height="153" fill="#171717"/>
<rect x="856" y="49" width="2" height="153" fill="#292929"/>
<rect x="858" y="49" width="1" height="153" fill="#151515"/>
<rect x="859" y="49" width="1" height="153" fill="#121212"/>
<rect x="860" y="49" width="1" height="153" fill="#1b1b1b"/>
<rect x="861" y="49" width="1" height="153" fill="#1a1a1a"/>
<rect x="862" y="49" width="2" height="153" fill="#101010"/>
<rect x="864" y="49" width="1" height="153" fill="#232323"/>
<rect x="865" y="49" width="1" height="153" fill="#1f1f1f"/>
<rect x="866" y="49" width="2" height="153" fill="#171717"/>
<rect x="868" y="49" width="1" height="153" fill="#2b2b2b"/>
<rect x="869" y="49" width="1" height="153" fill="#303030"/>
<rect x="870" y="49" width="1" height="153" fill="#131313"/>
<rect x="871" y="49" width="1" height="153" fill="#101010"/>
<rect x="872" y="49" width="1" height="153" fill="#252525"/>
<rect x="873" y="49" width="1" height="153" fill="#292929"/>
<rect x="874" y="49" width="1" height="153" fill="#272727"/>
<rect x="875" y="49" width="1" height="153" fill="#161616"/>
<rect x="876" y="49" width="1" height="153" fill="#151515"/>
<rect x="877" y="49" width="1" height="153" fill="#333333"/>
<rect x="878" y="49" width="1" height="153" fill="#2f2f2f"/>
<rect x="879" y="49" width="1" height="153" fill="#0f0f0f"/>
<rect x="880" y="49" width="1" height="153" fill="#131313"/>
<rect x="881" y="49" width="1" height="153" fill="#2b2b2b"/>
<rect x="882" y="49" width="1" height="153" fill="#252525"/>
<rect x="883" y="49" width="1" height="153" fill="#151515"/>
<rect x="884" y="49" width="1" height="153" fill="#141414"/>
<rect x="885" y="49" width="1" height="153" fill="#222222"/>
<rect x="886" y="49" width="1" height="153" fill="#1a1a1a"/>
<rect x="887" y="49" width="1" height="153" fill="#313131"/>
<rect x="888" y="49" width="1" height="153" fill="#333333"/>
<rect x="889" y="49" width="1" height="153" fill="#3a3a3a"/>
<rect x="890" y="49" width="1" height="153" fill="#171717"/>
<rect x="891" y="49" width="1" height="153" fill="#191919"/>
<rect x="892" y="49" width="1" height="153" fill="#181818"/>
<rect x="893" y="49" width="1" height="153" fill="#2a2a2a"/>
<rect x="894" y="49" width="1" height="153" fill="#343434"/>
<rect x="895" y="49" width="1" height="153" fill="#131313"/>
<rect x="896" y="49" width="1" height="153" fill="#161616"/>
<rect x="897" y="49" width="1" height="153" fill="#181818"/>
<rect x="898" y="49" width="1" height="153" fill="#101010"/>
<rect x="899" y="49" width="1" height="153" fill="#131313"/>
<rect x="900" y="49" width="1" height="153" fill="#111111"/>
<rect x="901" y="49" width="1" height="153" fill="#101010"/>
<rect x="902" y="49" width="1" height="153" fill="#272727"/>
<rect x="903" y="49" width="1" height="153" fill="#121212"/>
<rect x="904" y="49" width="1" height="153" fill="#0f0f0f"/>
<rect x="905" y="49" width="1" height="153" fill="#111111"/>
<rect x="906" y="49" width="1" height="153" fill="#2c2c2c"/>
<rect x="907" y="49" width="1" height="153" fill="#2a2a2a"/>
<rect x="908" y="49" width="1" height="153" fill="#151515"/>
<rect x="909" y="49" width="1" height="153" fill="#292929"/>
<rect x="910" y="49" width="1" height="153" fill="#2d2d2d"/>
<rect x="911" y="49" width="1" height="153" fill="#181818"/>
<rect x="912" y="49" width="1" height="153" fill="#1a1a1a"/>
<rect x="913" y="49" width="1" height="153" fill="#272727"/>
<rect x="914" y="49" width="1" height="153" fill="#222222"/>
<rect x="915" y="49" width="1" height="153" fill="#151515"/>
<rect x="916" y="49" width="1" height="153" fill="#373737"/>
<rect x="917" y="49" width="1" height="153" fill="#343434"/>
<rect x="918" y="49" width="1" height="153" fill="#121212"/>
<rect x="919" y="49" width="1" height="153" fill="#141414"/>
<rect x="920" y="49" width="1" height="153" fill="#121212"/>
<rect x="921" y="49" width="1" height="153" fill="#131313"/>
<rect x="922" y="49" width="1" height="153" fill="#303030"/>
<rect x="923" y="49" width="1" height="153" fill="#2f2f2f"/>
<rect x="924" y="49" width="1" height="153" fill="#2d2d2d"/>
<rect x="925" y="49" width="1" height="153" fill="#151515"/>
<rect x="926" y="49" width="1" height="153" fill="#141414"/>
<rect x="927" y="49" width="1" height="153" fill="#151515"/>
<rect x="928" y="49" width="1" height="153" fill="#222222"/>
<rect x="929" y="49" width="1" height="153" fill="#272727"/>
<rect x="930" y="49" width="1" height="153" fill="#101010"/>
<rect x="931" y="49" width="1" height="153" fill="#2e2e2e"/>
<rect x="932" y="49" width="1" height="153" fill="#313131"/>
<rect x="933" y="49" width="1" height="153" fill="#161616"/>
<rect x="934" y="49" width="1" height="153" fill="#181818"/>
<rect x="935" y="49" width="1" height="153" fill="#2e2e2e"/>
<rect x="936" y="49" width="1" height="153" fill="#333333"/>
<rect x="937" y="49" width="1" height="153" fill="#121212"/>
<rect x="938" y="49" width="1" height="153" fill="#131313"/>
<rect x="939" y="49" width="1" height="153" fill="#282828"/>
<rect x="940" y="49" width="1" height="153" fill="#2c2c2c"/>
<rect x="941" y="49" width="1" height="153" fill="#0f0f0f"/>
<rect x="942" y="49" width="2" height="153" fill="#131313"/>
<rect x="944" y="49" width="1" height="153" fill="#2b2b2b"/>
<rect x="945" y="49" width="1" height="153" fill="#101010"/>
<rect x="946" y="49" width="1" height="153" fill="#0d0d0d"/>
<rect x="947" y="49" width="1" height="153" fill="#272727"/>
<rect x="948" y="49" width="1" height="153" fill="#131313"/>
<rect x="949" y="49" width="1" height="153" fill="#121212"/>
<rect x="950" y="49" width="1" height="153" fill="#222222"/>
<rect x="951" y="49" width="2" height="153" fill="#151515"/>
<rect x="953" y="49" width="2" height="153" fill="#161616"/>
<rect x="955" y="49" width="1" height="153" fill="#1e1e1e"/>
<rect x="956" y="49" width="1" height="153" fill="#1b1b1b"/>
<rect x="957" y="49" width="1" height="153" fill="#202020"/>
<rect x="958" y="49" width="1" height="153" fill="#161616"/>
<rect x="959" y="49" width="2" height="153" fill="#3a3a3a"/>
<rect x="961" y="49" width="1" height="153" fill="#131313"/>
<rect x="962" y="49" width="1" height="153" fill="#111111"/>
<rect x="963" y="49" width="1" height="153" fill="#2d2d2d"/>
<rect x="964" y="49" width="1" height="153" fill="#2a2a2a"/>
<rect x="965" y="49" width="1" height="153" fill="#171717"/>
<rect x="966" y="49" width="1" height="153" fill="#161616"/>
<rect x="967" y="49" width="1" height="153" fill="#171717"/>
<rect x="968" y="49" width="1" height="153" fill="#1f1f1f"/>
<rect x="969" y="49" width="1" height="153" fill="#121212"/>
<rect x="970" y="49" width="1" height="153" fill="#131313"/>
<rect x="971" y="49" width="1" height="153" fill="#252525"/>
<polyline points="80.0,125.5 120.0,125.5 159.0,126.0" fill="none" stroke="#fff" stroke-width="50.0" stroke-opacity="0.070" stroke-linecap="butt" stroke-linejoin="round" filter="url(#b4)"/>
<polyline points="80.0,125.5 120.0,125.5 159.0,126.0" fill="none" stroke="#fff" stroke-width="32.0" stroke-opacity="0.120" stroke-linecap="butt" stroke-linejoin="round" filter="url(#b4)"/>
<polyline points="80.0,125.5 120.0,125.5 159.0,126.0" fill="none" stroke="#fff" stroke-width="22.0" stroke-opacity="0.170" stroke-linecap="butt" stroke-linejoin="round" filter="url(#b3)"/>
<polyline points="80.0,125.5 120.0,125.5 159.0,126.0" fill="none" stroke="#fff" stroke-width="13.0" stroke-opacity="0.180" stroke-linecap="butt" stroke-linejoin="round" filter="url(#b2)"/>
<polyline points="83.0,125.0 88.0,125.0 92.0,125.4 95.0,124.6 98.0,126.6 100.0,127.4 104.0,127.0 107.0,126.0 110.0,125.4 113.0,125.6 116.0,125.4 120.0,126.0 123.0,125.4 125.0,123.0 127.0,121.0 129.0,120.4 131.0,122.0 133.0,124.0 136.0,126.0 139.0,127.0 142.0,126.6 145.0,125.0 148.0,123.4 150.0,123.6 151.6,125.4 152.4,127.2 154.0,126.6 157.0,126.0 160.0,125.6 163.0,126.6" fill="none" stroke="#fff" stroke-width="4.0" stroke-opacity="0.100" stroke-linecap="butt" stroke-linejoin="round" filter="url(#b1)"/>
<polyline points="607.6,116.0 609.0,114.0 611.0,115.0 613.0,117.4 616.0,118.6 620.0,119.0 624.0,118.6 630.0,119.0 636.0,120.0 642.0,120.6 648.0,121.0 654.0,121.4 660.0,121.4 664.0,121.4 668.3,121.3 673.3,121.8 676.4,121.9 680.8,121.3 684.5,121.5 688.6,121.3 692.7,121.5 697.1,121.3 700.3,121.2 705.2,121.8 708.3,121.6 711.9,122.0 715.9,121.7 720.2,121.7 724.6,121.8 728.6,122.1 732.8,121.9 735.9,121.8 740.0,122.2 743.6,121.6 746.7,122.1 750.4,122.2 754.4,122.4 758.3,122.1 761.6,122.1 764.8,122.4 768.6,122.1 772.3,122.2 776.4,122.2 780.5,122.4 783.9,122.8 788.0,122.3 792.2,122.5 796.9,122.2 800.1,123.0 803.2,122.7 807.3,122.6 812.1,123.0 816.4,123.0 821.2,122.4 825.3,122.8 828.6,122.5 831.7,123.1 835.7,123.2 840.2,122.6 844.7,122.6 849.6,122.6 852.6,123.3 856.7,123.0 860.0,123.0 864.0,123.6 867.4,123.4 872.1,123.3 876.1,123.6 880.2,123.5 883.7,123.9 887.6,124.0 891.6,123.7 894.8,123.6 899.7,124.0 903.2,124.0 906.5,124.0 910.4,124.0 915.0,124.5 918.3,124.8 921.9,124.4 926.7,124.8 931.3,124.5 934.5,125.1 939.0,124.6 943.5,124.9 948.2,125.6 951.4,125.8 955.1,125.7 959.1,126.2 963.5,126.2 966.5,126.3 969.9,126.0" fill="none" stroke="#fff" stroke-width="50.0" stroke-opacity="0.065" stroke-linecap="butt" stroke-linejoin="round" filter="url(#b4)"/>
<polyline points="607.6,116.0 609.0,114.0 611.0,115.0 613.0,117.4 616.0,118.6 620.0,119.0 624.0,118.6 630.0,119.0 636.0,120.0 642.0,120.6 648.0,121.0 654.0,121.4 660.0,121.4 664.0,121.4 668.3,121.3 673.3,121.8 676.4,121.9 680.8,121.3 684.5,121.5 688.6,121.3 692.7,121.5 697.1,121.3 700.3,121.2 705.2,121.8 708.3,121.6 711.9,122.0 715.9,121.7 720.2,121.7 724.6,121.8 728.6,122.1 732.8,121.9 735.9,121.8 740.0,122.2 743.6,121.6 746.7,122.1 750.4,122.2 754.4,122.4 758.3,122.1 761.6,122.1 764.8,122.4 768.6,122.1 772.3,122.2 776.4,122.2 780.5,122.4 783.9,122.8 788.0,122.3 792.2,122.5 796.9,122.2 800.1,123.0 803.2,122.7 807.3,122.6 812.1,123.0 816.4,123.0 821.2,122.4 825.3,122.8 828.6,122.5 831.7,123.1 835.7,123.2 840.2,122.6 844.7,122.6 849.6,122.6 852.6,123.3 856.7,123.0 860.0,123.0 864.0,123.6 867.4,123.4 872.1,123.3 876.1,123.6 880.2,123.5 883.7,123.9 887.6,124.0 891.6,123.7 894.8,123.6 899.7,124.0 903.2,124.0 906.5,124.0 910.4,124.0 915.0,124.5 918.3,124.8 921.9,124.4 926.7,124.8 931.3,124.5 934.5,125.1 939.0,124.6 943.5,124.9 948.2,125.6 951.4,125.8 955.1,125.7 959.1,126.2 963.5,126.2 966.5,126.3 969.9,126.0" fill="none" stroke="#fff" stroke-width="32.0" stroke-opacity="0.100" stroke-linecap="butt" stroke-linejoin="round" filter="url(#b4)"/>
<polyline points="607.6,116.0 609.0,114.0 611.0,115.0 613.0,117.4 616.0,118.6 620.0,119.0 624.0,118.6 630.0,119.0 636.0,120.0 642.0,120.6 648.0,121.0 654.0,121.4 660.0,121.4 664.0,121.4 668.3,121.3 673.3,121.8 676.4,121.9 680.8,121.3 684.5,121.5 688.6,121.3 692.7,121.5 697.1,121.3 700.3,121.2 705.2,121.8 708.3,121.6 711.9,122.0 715.9,121.7 720.2,121.7 724.6,121.8 728.6,122.1 732.8,121.9 735.9,121.8 740.0,122.2 743.6,121.6 746.7,122.1 750.4,122.2 754.4,122.4 758.3,122.1 761.6,122.1 764.8,122.4 768.6,122.1 772.3,122.2 776.4,122.2 780.5,122.4 783.9,122.8 788.0,122.3 792.2,122.5 796.9,122.2 800.1,123.0 803.2,122.7 807.3,122.6 812.1,123.0 816.4,123.0 821.2,122.4 825.3,122.8 828.6,122.5 831.7,123.1 835.7,123.2 840.2,122.6 844.7,122.6 849.6,122.6 852.6,123.3 856.7,123.0 860.0,123.0 864.0,123.6 867.4,123.4 872.1,123.3 876.1,123.6 880.2,123.5 883.7,123.9 887.6,124.0 891.6,123.7 894.8,123.6 899.7,124.0 903.2,124.0 906.5,124.0 910.4,124.0 915.0,124.5 918.3,124.8 921.9,124.4 926.7,124.8 931.3,124.5 934.5,125.1 939.0,124.6 943.5,124.9 948.2,125.6 951.4,125.8 955.1,125.7 959.1,126.2 963.5,126.2 966.5,126.3 969.9,126.0" fill="none" stroke="#fff" stroke-width="22.0" stroke-opacity="0.140" stroke-linecap="butt" stroke-linejoin="round" filter="url(#b3)"/>
<polyline points="607.6,116.0 609.0,114.0 611.0,115.0 613.0,117.4 616.0,118.6 620.0,119.0 624.0,118.6 630.0,119.0 636.0,120.0 642.0,120.6 648.0,121.0 654.0,121.4 660.0,121.4 664.0,121.4 668.3,121.3 673.3,121.8 676.4,121.9 680.8,121.3 684.5,121.5 688.6,121.3 692.7,121.5 697.1,121.3 700.3,121.2 705.2,121.8 708.3,121.6 711.9,122.0 715.9,121.7 720.2,121.7 724.6,121.8 728.6,122.1 732.8,121.9 735.9,121.8 740.0,122.2 743.6,121.6 746.7,122.1 750.4,122.2 754.4,122.4 758.3,122.1 761.6,122.1 764.8,122.4 768.6,122.1 772.3,122.2 776.4,122.2 780.5,122.4 783.9,122.8 788.0,122.3 792.2,122.5 796.9,122.2 800.1,123.0 803.2,122.7 807.3,122.6 812.1,123.0 816.4,123.0 821.2,122.4 825.3,122.8 828.6,122.5 831.7,123.1 835.7,123.2 840.2,122.6 844.7,122.6 849.6,122.6 852.6,123.3 856.7,123.0 860.0,123.0 864.0,123.6 867.4,123.4 872.1,123.3 876.1,123.6 880.2,123.5 883.7,123.9 887.6,124.0 891.6,123.7 894.8,123.6 899.7,124.0 903.2,124.0 906.5,124.0 910.4,124.0 915.0,124.5 918.3,124.8 921.9,124.4 926.7,124.8 931.3,124.5 934.5,125.1 939.0,124.6 943.5,124.9 948.2,125.6 951.4,125.8 955.1,125.7 959.1,126.2 963.5,126.2 966.5,126.3 969.9,126.0" fill="none" stroke="#fff" stroke-width="11.0" stroke-opacity="0.170" stroke-linecap="butt" stroke-linejoin="round" filter="url(#b2)"/>
<polyline points="607.6,116.0 609.0,114.0 611.0,115.0 613.0,117.4 616.0,118.6 620.0,119.0 624.0,118.6 630.0,119.0 636.0,120.0 642.0,120.6 648.0,121.0 654.0,121.4 660.0,121.4 664.0,121.4 668.3,121.3 673.3,121.8 676.4,121.9 680.8,121.3 684.5,121.5 688.6,121.3 692.7,121.5 697.1,121.3 700.3,121.2 705.2,121.8 708.3,121.6 711.9,122.0 715.9,121.7 720.2,121.7 724.6,121.8 728.6,122.1 732.8,121.9 735.9,121.8 740.0,122.2 743.6,121.6 746.7,122.1 750.4,122.2 754.4,122.4 758.3,122.1 761.6,122.1 764.8,122.4 768.6,122.1 772.3,122.2 776.4,122.2 780.5,122.4 783.9,122.8 788.0,122.3 792.2,122.5 796.9,122.2 800.1,123.0 803.2,122.7 807.3,122.6 812.1,123.0 816.4,123.0 821.2,122.4 825.3,122.8 828.6,122.5 831.7,123.1 835.7,123.2 840.2,122.6 844.7,122.6 849.6,122.6 852.6,123.3 856.7,123.0 860.0,123.0 864.0,123.6 867.4,123.4 872.1,123.3 876.1,123.6 880.2,123.5 883.7,123.9 887.6,124.0 891.6,123.7 894.8,123.6 899.7,124.0 903.2,124.0 906.5,124.0 910.4,124.0 915.0,124.5 918.3,124.8 921.9,124.4 926.7,124.8 931.3,124.5 934.5,125.1 939.0,124.6 943.5,124.9 948.2,125.6 951.4,125.8 955.1,125.7 959.1,126.2 963.5,126.2 966.5,126.3 969.9,126.0" fill="none" stroke="#fff" stroke-width="4.0" stroke-opacity="0.100" stroke-linecap="butt" stroke-linejoin="round" filter="url(#b1)"/>
<polyline points="607.5,116.0 609.0,112.5 612.0,110.5 617.0,110.5 621.0,111.5" fill="none" stroke="#fff" stroke-width="1.2" stroke-opacity="0.220" stroke-linecap="butt" stroke-linejoin="round" filter="url(#b1)"/>
<g filter="url(#gr)">
<polyline points="162.0,130.0 185.0,132.0 205.0,133.5 225.0,134.0 245.0,133.5 258.0,132.0 270.0,129.5 286.0,128.0" fill="none" stroke="#fff" stroke-width="30.0" stroke-opacity="0.112" stroke-linecap="butt" stroke-linejoin="round" filter="url(#b3)"/>
<polyline points="162.0,130.0 185.0,132.0 205.0,133.5 225.0,134.0 245.0,133.5 258.0,132.0 270.0,129.5 286.0,128.0" fill="none" stroke="#fff" stroke-width="23.0" stroke-opacity="0.252" stroke-linecap="butt" stroke-linejoin="round" filter="url(#b3)"/>
<polyline points="162.0,127.5 185.0,129.5 205.0,131.0 225.0,131.5 245.0,131.0 258.0,129.5 270.0,127.0 286.0,125.5" fill="none" stroke="#fff" stroke-width="15.0" stroke-opacity="0.280" stroke-linecap="butt" stroke-linejoin="round" filter="url(#b2)"/>
<polyline points="164.0,127.0 185.0,128.5 205.0,129.5 225.0,129.3 245.0,128.0 258.0,126.5 266.0,125.0 270.0,123.4" fill="none" stroke="#fff" stroke-width="6.0" stroke-opacity="0.098" stroke-linecap="butt" stroke-linejoin="round" filter="url(#b2)"/>
<polyline points="176.0,143.0 200.0,148.0 225.0,148.0 250.0,145.0 262.0,141.0" fill="none" stroke="#fff" stroke-width="15.0" stroke-opacity="0.084" stroke-linecap="butt" stroke-linejoin="round" filter="url(#b3)"/>
<line x1="195.6" y1="138.3" x2="195.2" y2="149.6" stroke="#fff" stroke-width="1" stroke-opacity="0.10"/>
<line x1="244.8" y1="137.9" x2="244.7" y2="152.7" stroke="#fff" stroke-width="1" stroke-opacity="0.09"/>
<line x1="201.3" y1="138.2" x2="201.8" y2="147.4" stroke="#fff" stroke-width="1" stroke-opacity="0.14"/>
<line x1="176.6" y1="136.3" x2="177.1" y2="154.7" stroke="#fff" stroke-width="1" stroke-opacity="0.15"/>
<line x1="255.8" y1="137.8" x2="255.9" y2="154.3" stroke="#fff" stroke-width="1" stroke-opacity="0.15"/>
<line x1="210.2" y1="137.0" x2="210.3" y2="149.5" stroke="#fff" stroke-width="1" stroke-opacity="0.11"/>
<line x1="204.4" y1="139.0" x2="204.8" y2="147.1" stroke="#fff" stroke-width="1" stroke-opacity="0.10"/>
<line x1="211.7" y1="136.3" x2="211.8" y2="150.9" stroke="#fff" stroke-width="1" stroke-opacity="0.14"/>
<line x1="251.1" y1="139.7" x2="250.5" y2="148.5" stroke="#fff" stroke-width="1" stroke-opacity="0.16"/>
<line x1="242.3" y1="136.4" x2="241.8" y2="147.1" stroke="#fff" stroke-width="1" stroke-opacity="0.09"/>
<line x1="217.4" y1="138.4" x2="216.9" y2="155.8" stroke="#fff" stroke-width="1" stroke-opacity="0.14"/>
<line x1="251.6" y1="138.8" x2="251.2" y2="154.6" stroke="#fff" stroke-width="1" stroke-opacity="0.11"/>
<line x1="191.3" y1="138.6" x2="191.9" y2="146.6" stroke="#fff" stroke-width="1" stroke-opacity="0.11"/>
<line x1="222.5" y1="138.4" x2="222.4" y2="149.5" stroke="#fff" stroke-width="1" stroke-opacity="0.10"/>
<line x1="241.9" y1="136.1" x2="241.7" y2="153.4" stroke="#fff" stroke-width="1" stroke-opacity="0.14"/>
<line x1="218.9" y1="136.5" x2="218.7" y2="155.7" stroke="#fff" stroke-width="1" stroke-opacity="0.09"/>
<line x1="189.4" y1="136.6" x2="190.0" y2="155.3" stroke="#fff" stroke-width="1" stroke-opacity="0.13"/>
<line x1="257.9" y1="138.3" x2="258.4" y2="153.1" stroke="#fff" stroke-width="1" stroke-opacity="0.15"/>
<line x1="201.3" y1="138.1" x2="200.7" y2="147.1" stroke="#fff" stroke-width="1" stroke-opacity="0.08"/>
<line x1="230.2" y1="136.9" x2="230.3" y2="146.0" stroke="#fff" stroke-width="1" stroke-opacity="0.15"/>
<line x1="239.8" y1="140.0" x2="240.6" y2="151.3" stroke="#fff" stroke-width="1" stroke-opacity="0.12"/>
<line x1="257.5" y1="138.0" x2="257.1" y2="147.2" stroke="#fff" stroke-width="1" stroke-opacity="0.13"/>
<line x1="235.5" y1="137.2" x2="235.6" y2="153.0" stroke="#fff" stroke-width="1" stroke-opacity="0.13"/>
<line x1="191.1" y1="136.0" x2="191.6" y2="148.1" stroke="#fff" stroke-width="1" stroke-opacity="0.12"/>
<line x1="233.1" y1="136.8" x2="232.4" y2="154.0" stroke="#fff" stroke-width="1" stroke-opacity="0.14"/>
<line x1="173.0" y1="138.6" x2="173.3" y2="147.9" stroke="#fff" stroke-width="1" stroke-opacity="0.14"/>
<polyline points="270.0,123.0 274.0,123.4 278.0,124.6 282.0,126.0 286.0,128.0 290.0,130.0 294.0,132.0 297.0,133.0 298.4,133.4 300.0,129.4 302.0,126.6 304.0,125.0 308.0,124.6 312.0,125.0 316.0,125.4 322.0,125.4 330.0,125.0 338.0,124.6 346.0,125.0 354.0,125.0 362.0,125.0 370.0,125.0 378.0,125.4 386.0,125.0 394.0,125.0 402.0,125.0 410.0,123.0 414.0,122.0 418.0,123.4 422.0,125.0 428.0,125.4 432.0,124.6 436.0,122.6 440.0,121.4 444.0,121.0 448.0,121.0 452.0,122.0 456.0,123.4 460.0,124.6 465.0,124.6 470.0,123.0" fill="none" stroke="#fff" stroke-width="22.0" stroke-opacity="0.056" stroke-linecap="butt" stroke-linejoin="round" filter="url(#b3)"/>
<polyline points="270.0,123.0 274.0,123.4 278.0,124.6 282.0,126.0 286.0,128.0 290.0,130.0 294.0,132.0 297.0,133.0 298.4,133.4 300.0,129.4 302.0,126.6 304.0,125.0 308.0,124.6 312.0,125.0 316.0,125.4 322.0,125.4 330.0,125.0 338.0,124.6 346.0,125.0 354.0,125.0 362.0,125.0 370.0,125.0 378.0,125.4 386.0,125.0 394.0,125.0 402.0,125.0 410.0,123.0 414.0,122.0 418.0,123.4 422.0,125.0 428.0,125.4 432.0,124.6 436.0,122.6 440.0,121.4 444.0,121.0 448.0,121.0 452.0,122.0 456.0,123.4 460.0,124.6 465.0,124.6 470.0,123.0" fill="none" stroke="#fff" stroke-width="13.0" stroke-opacity="0.112" stroke-linecap="butt" stroke-linejoin="round" filter="url(#b3)"/>
<polyline points="270.0,123.0 274.0,123.4 278.0,124.6 282.0,126.0 286.0,128.0 290.0,130.0 294.0,132.0 297.0,133.0 298.4,133.4 300.0,129.4 302.0,126.6 304.0,125.0 308.0,124.6 312.0,125.0 316.0,125.4 322.0,125.4 330.0,125.0 338.0,124.6 346.0,125.0 354.0,125.0 362.0,125.0 370.0,125.0 378.0,125.4 386.0,125.0 394.0,125.0 402.0,125.0 410.0,123.0 414.0,122.0 418.0,123.4 422.0,125.0 428.0,125.4 432.0,124.6 436.0,122.6 440.0,121.4 444.0,121.0 448.0,121.0 452.0,122.0 456.0,123.4 460.0,124.6 465.0,124.6 470.0,123.0" fill="none" stroke="#fff" stroke-width="6.0" stroke-opacity="0.210" stroke-linecap="butt" stroke-linejoin="round" filter="url(#b2)"/>
<polyline points="270.0,123.0 274.0,123.4 278.0,124.6 282.0,126.0 286.0,128.0 290.0,130.0 294.0,132.0 297.0,133.0 298.4,133.4 300.0,129.4 302.0,126.6 304.0,125.0 308.0,124.6 312.0,125.0 316.0,125.4 322.0,125.4 330.0,125.0 338.0,124.6 346.0,125.0 354.0,125.0 362.0,125.0 370.0,125.0 378.0,125.4 386.0,125.0 394.0,125.0 402.0,125.0 410.0,123.0 414.0,122.0 418.0,123.4 422.0,125.0 428.0,125.4 432.0,124.6 436.0,122.6 440.0,121.4 444.0,121.0 448.0,121.0 452.0,122.0 456.0,123.4 460.0,124.6 465.0,124.6 470.0,123.0" fill="none" stroke="#fff" stroke-width="3.0" stroke-opacity="0.336" stroke-linecap="butt" stroke-linejoin="round" filter="url(#b1)"/>
<polyline points="270.0,123.0 274.0,123.4 278.0,124.6 282.0,126.0 286.0,128.0 290.0,130.0 294.0,132.0 297.0,133.0 298.4,133.4 300.0,129.4 302.0,126.6 304.0,125.0 308.0,124.6 312.0,125.0 316.0,125.4 322.0,125.4 330.0,125.0 338.0,124.6 346.0,125.0 354.0,125.0 362.0,125.0 370.0,125.0 378.0,125.4 386.0,125.0 394.0,125.0 402.0,125.0 410.0,123.0 414.0,122.0 418.0,123.4 422.0,125.0 428.0,125.4 432.0,124.6 436.0,122.6 440.0,121.4 444.0,121.0 448.0,121.0 452.0,122.0 456.0,123.4 460.0,124.6 465.0,124.6 470.0,123.0" fill="none" stroke="#fff" stroke-width="1.2" stroke-opacity="0.252" stroke-linecap="butt" stroke-linejoin="round"/>
<polyline points="460.0,123.0 466.0,122.0 472.0,118.6 478.0,118.0 484.0,119.0 490.0,119.4 496.0,120.6 500.0,119.4 504.0,118.6 508.0,117.0 512.0,118.0 516.0,119.4 520.0,120.0 524.0,121.0 528.0,122.0 532.0,121.0 536.0,118.6 540.0,117.0 544.0,116.0 548.0,116.0 552.0,117.0 556.0,118.6 560.0,121.0 564.0,123.4 568.0,125.4 572.0,127.0 576.0,126.0 579.0,123.0 581.0,119.0 584.0,116.0 588.0,114.0 591.0,113.0 593.0,114.6" fill="none" stroke="#fff" stroke-width="22.0" stroke-opacity="0.056" stroke-linecap="butt" stroke-linejoin="round" filter="url(#b3)"/>
<polyline points="460.0,123.0 466.0,122.0 472.0,118.6 478.0,118.0 484.0,119.0 490.0,119.4 496.0,120.6 500.0,119.4 504.0,118.6 508.0,117.0 512.0,118.0 516.0,119.4 520.0,120.0 524.0,121.0 528.0,122.0 532.0,121.0 536.0,118.6 540.0,117.0 544.0,116.0 548.0,116.0 552.0,117.0 556.0,118.6 560.0,121.0 564.0,123.4 568.0,125.4 572.0,127.0 576.0,126.0 579.0,123.0 581.0,119.0 584.0,116.0 588.0,114.0 591.0,113.0 593.0,114.6" fill="none" stroke="#fff" stroke-width="13.0" stroke-opacity="0.112" stroke-linecap="butt" stroke-linejoin="round" filter="url(#b3)"/>
<polyline points="460.0,123.0 466.0,122.0 472.0,118.6 478.0,118.0 484.0,119.0 490.0,119.4 496.0,120.6 500.0,119.4 504.0,118.6 508.0,117.0 512.0,118.0 516.0,119.4 520.0,120.0 524.0,121.0 528.0,122.0 532.0,121.0 536.0,118.6 540.0,117.0 544.0,116.0 548.0,116.0 552.0,117.0 556.0,118.6 560.0,121.0 564.0,123.4 568.0,125.4 572.0,127.0 576.0,126.0 579.0,123.0 581.0,119.0 584.0,116.0 588.0,114.0 591.0,113.0 593.0,114.6" fill="none" stroke="#fff" stroke-width="6.0" stroke-opacity="0.210" stroke-linecap="butt" stroke-linejoin="round" filter="url(#b2)"/>
<polyline points="460.0,123.0 466.0,122.0 472.0,118.6 478.0,118.0 484.0,119.0 490.0,119.4 496.0,120.6 500.0,119.4 504.0,118.6 508.0,117.0 512.0,118.0 516.0,119.4 520.0,120.0 524.0,121.0 528.0,122.0 532.0,121.0 536.0,118.6 540.0,117.0 544.0,116.0 548.0,116.0 552.0,117.0 556.0,118.6 560.0,121.0 564.0,123.4 568.0,125.4 572.0,127.0 576.0,126.0 579.0,123.0 581.0,119.0 584.0,116.0 588.0,114.0 591.0,113.0 593.0,114.6" fill="none" stroke="#fff" stroke-width="3.0" stroke-opacity="0.336" stroke-linecap="butt" stroke-linejoin="round" filter="url(#b1)"/>
<polyline points="460.0,123.0 466.0,122.0 472.0,118.6 478.0,118.0 484.0,119.0 490.0,119.4 496.0,120.6 500.0,119.4 504.0,118.6 508.0,117.0 512.0,118.0 516.0,119.4 520.0,120.0 524.0,121.0 528.0,122.0 532.0,121.0 536.0,118.6 540.0,117.0 544.0,116.0 548.0,116.0 552.0,117.0 556.0,118.6 560.0,121.0 564.0,123.4 568.0,125.4 572.0,127.0 576.0,126.0 579.0,123.0 581.0,119.0 584.0,116.0 588.0,114.0 591.0,113.0 593.0,114.6" fill="none" stroke="#fff" stroke-width="1.2" stroke-opacity="0.252" stroke-linecap="butt" stroke-linejoin="round"/>
<polyline points="308.0,115.6 312.0,116.0 316.0,116.4 322.0,116.4 330.0,116.0 338.0,115.6 346.0,116.0 354.0,116.0 362.0,116.0 370.0,116.0 378.0,116.4 386.0,116.0 394.0,116.0 402.0,116.0 410.0,114.0 414.0,113.0 418.0,114.4 422.0,116.0 428.0,116.4 432.0,115.6 436.0,113.6 440.0,112.4 444.0,112.0 448.0,112.0 452.0,113.0 456.0,114.4 460.0,115.6 465.0,115.6 470.0,114.0 460.0,114.0 466.0,113.0 472.0,109.6 478.0,109.0 484.0,110.0 490.0,110.4 496.0,111.6 500.0,110.4 504.0,109.6 508.0,108.0 512.0,109.0 516.0,110.4 520.0,111.0 524.0,112.0 528.0,113.0 532.0,112.0 536.0,109.6 540.0,108.0 544.0,107.0 548.0,107.0 552.0,108.0 556.0,109.6 560.0,112.0 564.0,114.4 568.0,116.4 572.0,118.0 576.0,117.0 579.0,114.0 581.0,110.0 584.0,107.0" fill="none" stroke="#fff" stroke-width="18.0" stroke-opacity="0.112" stroke-linecap="butt" stroke-linejoin="round" filter="url(#b3)"/>
<polyline points="308.0,131.6 312.0,132.0 316.0,132.4 322.0,132.4 330.0,132.0 338.0,131.6 346.0,132.0 354.0,132.0 362.0,132.0 370.0,132.0 378.0,132.4 386.0,132.0 394.0,132.0 402.0,132.0 410.0,130.0 414.0,129.0 418.0,130.4 422.0,132.0 428.0,132.4 432.0,131.6 436.0,129.6 440.0,128.4 444.0,128.0 448.0,128.0 452.0,129.0 456.0,130.4 460.0,131.6 465.0,131.6 470.0,130.0 460.0,130.0 466.0,129.0 472.0,125.6 478.0,125.0 484.0,126.0 490.0,126.4 496.0,127.6 500.0,126.4 504.0,125.6 508.0,124.0 512.0,125.0 516.0,126.4 520.0,127.0 524.0,128.0 528.0,129.0 532.0,128.0 536.0,125.6 540.0,124.0 544.0,123.0 548.0,123.0 552.0,124.0 556.0,125.6 560.0,128.0 564.0,130.4 568.0,132.4 572.0,134.0 576.0,133.0 579.0,130.0 581.0,126.0 584.0,123.0" fill="none" stroke="#fff" stroke-width="14.0" stroke-opacity="0.049" stroke-linecap="butt" stroke-linejoin="round" filter="url(#b3)"/>
<polyline points="270.0,122.0 285.0,121.5 300.0,121.0 310.0,123.0" fill="none" stroke="#fff" stroke-width="1.5" stroke-opacity="0.168" stroke-linecap="butt" stroke-linejoin="round" filter="url(#b1)"/>
<polyline points="296.0,133.0 295.5,140.0 296.0,146.0" fill="none" stroke="#fff" stroke-width="1.6" stroke-opacity="0.308" stroke-linecap="butt" stroke-linejoin="round" filter="url(#b1)"/>
<polyline points="296.0,146.0 296.0,170.0" fill="none" stroke="#fff" stroke-width="1.0" stroke-opacity="0.098" stroke-linecap="butt" stroke-linejoin="round"/>
<ellipse cx="400" cy="92" rx="22" ry="7" fill="#fff" opacity="0.05" filter="url(#b3)"/>
<polyline points="581.0,120.0 585.0,116.5 589.0,114.0 594.0,113.0" fill="none" stroke="#fff" stroke-width="8.5" stroke-opacity="0.560" stroke-linecap="butt" stroke-linejoin="round" filter="url(#b2)"/>
<polyline points="583.0,118.0 587.0,115.0 592.0,113.2" fill="none" stroke="#fff" stroke-width="3.5" stroke-opacity="0.490" stroke-linecap="butt" stroke-linejoin="round" filter="url(#b1)"/>
</g>
<circle cx="225.6" cy="132.1" r="1.0" fill="#fff" opacity="0.45"/>
<circle cx="230.4" cy="128.6" r="0.9" fill="#fff" opacity="0.40"/>
<circle cx="236.0" cy="133.4" r="1.0" fill="#fff" opacity="0.45"/>
<circle cx="246.4" cy="139.0" r="1.2" fill="#fff" opacity="0.50"/>
<circle cx="248.5" cy="137.0" r="0.9" fill="#fff" opacity="0.35"/>
<circle cx="264.0" cy="124.6" r="1.0" fill="#fff" opacity="0.50"/>
<circle cx="265.6" cy="125.7" r="0.9" fill="#fff" opacity="0.40"/>
<circle cx="284.8" cy="127.0" r="0.9" fill="#fff" opacity="0.35"/>
<circle cx="296.8" cy="133.0" r="1.2" fill="#fff" opacity="0.60"/>
<circle cx="212.0" cy="131.0" r="0.8" fill="#fff" opacity="0.30"/>
<circle cx="199.0" cy="133.0" r="0.8" fill="#fff" opacity="0.30"/>
<circle cx="241.0" cy="130.0" r="0.8" fill="#fff" opacity="0.30"/>
<polyline points="607.0,40.0 613.0,41.2 619.0,42.8 625.0,43.3 631.0,43.7 637.0,44.0 643.0,44.4 649.0,44.7 655.0,45.1 661.0,45.4 667.0,45.4 673.0,45.5 679.0,45.5 685.0,45.5 691.0,45.6 697.0,45.6" fill="none" stroke="#fff" stroke-width="1.2" stroke-opacity="0.090" stroke-linecap="butt" stroke-linejoin="round"/>
<polyline points="697.0,45.6 703.0,45.6 709.0,45.7 715.0,45.7 721.0,45.8 727.0,45.8 733.0,45.9 739.0,45.9 745.0,46.0 751.0,46.0 757.0,46.1 763.0,46.2 769.0,46.2 775.0,46.3 781.0,46.4 787.0,46.4 793.0,46.5 799.0,46.6" fill="none" stroke="#fff" stroke-width="1.2" stroke-opacity="0.055" stroke-linecap="butt" stroke-linejoin="round"/>
<polyline points="799.0,46.6 805.0,46.6 811.0,46.7 817.0,46.7 823.0,46.8 829.0,46.8 835.0,46.9 841.0,46.9 847.0,47.0 853.0,47.1 859.0,47.2 865.0,47.3 871.0,47.4 877.0,47.5 883.0,47.7 889.0,47.8 895.0,47.9 901.0,48.0 907.0,48.2 913.0,48.3 919.0,48.5 925.0,48.6 931.0,48.8 937.0,48.9 943.0,49.1 949.0,49.4 955.0,49.6 961.0,49.9 967.0,50.0 973.0,50.0" fill="none" stroke="#fff" stroke-width="1.2" stroke-opacity="0.035" stroke-linecap="butt" stroke-linejoin="round"/>
<polyline points="82.0,49.5 157.0,49.5" fill="none" stroke="#fff" stroke-width="1.2" stroke-opacity="0.040" stroke-linecap="butt" stroke-linejoin="round"/>
<polyline points="607.0,55.2 613.0,56.5 619.0,58.0 625.0,58.5 631.0,58.9 637.0,59.2 643.0,59.6 649.0,59.9 655.0,60.3 661.0,60.6 667.0,60.6 673.0,60.7 679.0,60.7 685.0,60.7 691.0,60.8 697.0,60.8" fill="none" stroke="#fff" stroke-width="1.2" stroke-opacity="0.090" stroke-linecap="butt" stroke-linejoin="round"/>
<polyline points="697.0,60.8 703.0,60.8 709.0,60.9 715.0,60.9 721.0,61.0 727.0,61.0 733.0,61.1 739.0,61.1 745.0,61.2 751.0,61.2 757.0,61.3 763.0,61.4 769.0,61.4 775.0,61.5 781.0,61.6 787.0,61.6 793.0,61.7 799.0,61.8" fill="none" stroke="#fff" stroke-width="1.2" stroke-opacity="0.055" stroke-linecap="butt" stroke-linejoin="round"/>
<polyline points="799.0,61.8 805.0,61.8 811.0,61.9 817.0,61.9 823.0,62.0 829.0,62.0 835.0,62.1 841.0,62.1 847.0,62.2 853.0,62.3 859.0,62.4 865.0,62.5 871.0,62.6 877.0,62.7 883.0,62.9 889.0,63.0 895.0,63.1 901.0,63.2 907.0,63.4 913.0,63.5 919.0,63.7 925.0,63.8 931.0,64.0 937.0,64.1 943.0,64.3 949.0,64.6 955.0,64.8 961.0,65.1 967.0,65.2 973.0,65.2" fill="none" stroke="#fff" stroke-width="1.2" stroke-opacity="0.035" stroke-linecap="butt" stroke-linejoin="round"/>
<polyline points="82.0,64.7 157.0,64.7" fill="none" stroke="#fff" stroke-width="1.2" stroke-opacity="0.040" stroke-linecap="butt" stroke-linejoin="round"/>
<polyline points="607.0,70.4 613.0,71.7 619.0,73.2 625.0,73.7 631.0,74.1 637.0,74.4 643.0,74.8 649.0,75.1 655.0,75.5 661.0,75.8 667.0,75.8 673.0,75.9 679.0,75.9 685.0,75.9 691.0,76.0 697.0,76.0" fill="none" stroke="#fff" stroke-width="1.2" stroke-opacity="0.090" stroke-linecap="butt" stroke-linejoin="round"/>
<polyline points="697.0,76.0 703.0,76.0 709.0,76.1 715.0,76.1 721.0,76.2 727.0,76.2 733.0,76.3 739.0,76.3 745.0,76.4 751.0,76.4 757.0,76.5 763.0,76.6 769.0,76.6 775.0,76.7 781.0,76.8 787.0,76.8 793.0,76.9 799.0,77.0" fill="none" stroke="#fff" stroke-width="1.2" stroke-opacity="0.055" stroke-linecap="butt" stroke-linejoin="round"/>
<polyline points="799.0,77.0 805.0,77.0 811.0,77.1 817.0,77.1 823.0,77.2 829.0,77.2 835.0,77.3 841.0,77.3 847.0,77.4 853.0,77.5 859.0,77.6 865.0,77.7 871.0,77.8 877.0,77.9 883.0,78.1 889.0,78.2 895.0,78.3 901.0,78.4 907.0,78.6 913.0,78.7 919.0,78.9 925.0,79.0 931.0,79.2 937.0,79.3 943.0,79.5 949.0,79.8 955.0,80.0 961.0,80.3 967.0,80.4 973.0,80.4" fill="none" stroke="#fff" stroke-width="1.2" stroke-opacity="0.035" stroke-linecap="butt" stroke-linejoin="round"/>
<polyline points="82.0,79.9 157.0,79.9" fill="none" stroke="#fff" stroke-width="1.2" stroke-opacity="0.040" stroke-linecap="butt" stroke-linejoin="round"/>
<polyline points="607.0,85.6 613.0,86.8 619.0,88.3 625.0,88.9 631.0,89.3 637.0,89.6 643.0,90.0 649.0,90.3 655.0,90.7 661.0,91.0 667.0,91.0 673.0,91.1 679.0,91.1 685.0,91.1 691.0,91.2 697.0,91.2" fill="none" stroke="#fff" stroke-width="1.2" stroke-opacity="0.090" stroke-linecap="butt" stroke-linejoin="round"/>
<polyline points="697.0,91.2 703.0,91.2 709.0,91.3 715.0,91.3 721.0,91.4 727.0,91.4 733.0,91.5 739.0,91.5 745.0,91.6 751.0,91.6 757.0,91.7 763.0,91.8 769.0,91.8 775.0,91.9 781.0,92.0 787.0,92.0 793.0,92.1 799.0,92.2" fill="none" stroke="#fff" stroke-width="1.2" stroke-opacity="0.055" stroke-linecap="butt" stroke-linejoin="round"/>
<polyline points="799.0,92.2 805.0,92.2 811.0,92.3 817.0,92.3 823.0,92.4 829.0,92.4 835.0,92.5 841.0,92.5 847.0,92.6 853.0,92.7 859.0,92.8 865.0,92.9 871.0,93.0 877.0,93.1 883.0,93.3 889.0,93.4 895.0,93.5 901.0,93.6 907.0,93.8 913.0,93.9 919.0,94.1 925.0,94.2 931.0,94.4 937.0,94.5 943.0,94.7 949.0,95.0 955.0,95.2 961.0,95.5 967.0,95.6 973.0,95.6" fill="none" stroke="#fff" stroke-width="1.2" stroke-opacity="0.035" stroke-linecap="butt" stroke-linejoin="round"/>
<polyline points="82.0,95.1 157.0,95.1" fill="none" stroke="#fff" stroke-width="1.2" stroke-opacity="0.040" stroke-linecap="butt" stroke-linejoin="round"/>
<polyline points="607.0,100.8 613.0,102.0 619.0,103.5 625.0,104.1 631.0,104.5 637.0,104.8 643.0,105.2 649.0,105.5 655.0,105.9 661.0,106.2 667.0,106.2 673.0,106.3 679.0,106.3 685.0,106.3 691.0,106.4 697.0,106.4" fill="none" stroke="#fff" stroke-width="1.2" stroke-opacity="0.090" stroke-linecap="butt" stroke-linejoin="round"/>
<polyline points="697.0,106.4 703.0,106.4 709.0,106.5 715.0,106.5 721.0,106.6 727.0,106.6 733.0,106.7 739.0,106.7 745.0,106.8 751.0,106.8 757.0,106.9 763.0,107.0 769.0,107.0 775.0,107.1 781.0,107.2 787.0,107.2 793.0,107.3 799.0,107.4" fill="none" stroke="#fff" stroke-width="1.2" stroke-opacity="0.055" stroke-linecap="butt" stroke-linejoin="round"/>
<polyline points="799.0,107.4 805.0,107.4 811.0,107.5 817.0,107.5 823.0,107.6 829.0,107.6 835.0,107.7 841.0,107.7 847.0,107.8 853.0,107.9 859.0,108.0 865.0,108.1 871.0,108.2 877.0,108.3 883.0,108.5 889.0,108.6 895.0,108.7 901.0,108.8 907.0,109.0 913.0,109.1 919.0,109.3 925.0,109.4 931.0,109.6 937.0,109.7 943.0,109.9 949.0,110.2 955.0,110.4 961.0,110.7 967.0,110.8 973.0,110.8" fill="none" stroke="#fff" stroke-width="1.2" stroke-opacity="0.035" stroke-linecap="butt" stroke-linejoin="round"/>
<polyline points="82.0,110.3 157.0,110.3" fill="none" stroke="#fff" stroke-width="1.2" stroke-opacity="0.040" stroke-linecap="butt" stroke-linejoin="round"/>
<polyline points="607.0,131.2 613.0,132.4 619.0,133.9 625.0,134.5 631.0,134.9 637.0,135.2 643.0,135.6 649.0,135.9 655.0,136.3 661.0,136.6 667.0,136.6 673.0,136.7 679.0,136.7 685.0,136.7 691.0,136.8 697.0,136.8" fill="none" stroke="#fff" stroke-width="1.2" stroke-opacity="0.090" stroke-linecap="butt" stroke-linejoin="round"/>
<polyline points="697.0,136.8 703.0,136.8 709.0,136.9 715.0,136.9 721.0,137.0 727.0,137.0 733.0,137.1 739.0,137.1 745.0,137.2 751.0,137.2 757.0,137.3 763.0,137.4 769.0,137.4 775.0,137.5 781.0,137.6 787.0,137.6 793.0,137.7 799.0,137.8" fill="none" stroke="#fff" stroke-width="1.2" stroke-opacity="0.055" stroke-linecap="butt" stroke-linejoin="round"/>
<polyline points="799.0,137.8 805.0,137.8 811.0,137.9 817.0,137.9 823.0,138.0 829.0,138.0 835.0,138.1 841.0,138.1 847.0,138.2 853.0,138.3 859.0,138.4 865.0,138.5 871.0,138.6 877.0,138.7 883.0,138.9 889.0,139.0 895.0,139.1 901.0,139.2 907.0,139.4 913.0,139.5 919.0,139.7 925.0,139.8 931.0,140.0 937.0,140.1 943.0,140.3 949.0,140.6 955.0,140.8 961.0,141.1 967.0,141.2 973.0,141.2" fill="none" stroke="#fff" stroke-width="1.2" stroke-opacity="0.035" stroke-linecap="butt" stroke-linejoin="round"/>
<polyline points="82.0,140.7 157.0,140.7" fill="none" stroke="#fff" stroke-width="1.2" stroke-opacity="0.040" stroke-linecap="butt" stroke-linejoin="round"/>
<polyline points="607.0,146.4 613.0,147.7 619.0,149.2 625.0,149.7 631.0,150.1 637.0,150.4 643.0,150.8 649.0,151.1 655.0,151.5 661.0,151.8 667.0,151.8 673.0,151.9 679.0,151.9 685.0,151.9 691.0,152.0 697.0,152.0" fill="none" stroke="#fff" stroke-width="1.2" stroke-opacity="0.090" stroke-linecap="butt" stroke-linejoin="round"/>
<polyline points="697.0,152.0 703.0,152.0 709.0,152.1 715.0,152.1 721.0,152.2 727.0,152.2 733.0,152.3 739.0,152.3 745.0,152.4 751.0,152.4 757.0,152.5 763.0,152.6 769.0,152.6 775.0,152.7 781.0,152.8 787.0,152.8 793.0,152.9 799.0,153.0" fill="none" stroke="#fff" stroke-width="1.2" stroke-opacity="0.055" stroke-linecap="butt" stroke-linejoin="round"/>
<polyline points="799.0,153.0 805.0,153.0 811.0,153.1 817.0,153.1 823.0,153.2 829.0,153.2 835.0,153.3 841.0,153.3 847.0,153.4 853.0,153.5 859.0,153.6 865.0,153.7 871.0,153.8 877.0,153.9 883.0,154.1 889.0,154.2 895.0,154.3 901.0,154.4 907.0,154.6 913.0,154.7 919.0,154.9 925.0,155.0 931.0,155.2 937.0,155.3 943.0,155.5 949.0,155.8 955.0,156.0 961.0,156.3 967.0,156.4 973.0,156.4" fill="none" stroke="#fff" stroke-width="1.2" stroke-opacity="0.035" stroke-linecap="butt" stroke-linejoin="round"/>
<polyline points="82.0,155.9 157.0,155.9" fill="none" stroke="#fff" stroke-width="1.2" stroke-opacity="0.040" stroke-linecap="butt" stroke-linejoin="round"/>
<polyline points="607.0,161.6 613.0,162.8 619.0,164.3 625.0,164.9 631.0,165.3 637.0,165.6 643.0,166.0 649.0,166.3 655.0,166.7 661.0,167.0 667.0,167.0 673.0,167.1 679.0,167.1 685.0,167.1 691.0,167.2 697.0,167.2" fill="none" stroke="#fff" stroke-width="1.2" stroke-opacity="0.090" stroke-linecap="butt" stroke-linejoin="round"/>
<polyline points="697.0,167.2 703.0,167.2 709.0,167.3 715.0,167.3 721.0,167.4 727.0,167.4 733.0,167.5 739.0,167.5 745.0,167.6 751.0,167.6 757.0,167.7 763.0,167.8 769.0,167.8 775.0,167.9 781.0,168.0 787.0,168.0 793.0,168.1 799.0,168.2" fill="none" stroke="#fff" stroke-width="1.2" stroke-opacity="0.055" stroke-linecap="butt" stroke-linejoin="round"/>
<polyline points="799.0,168.2 805.0,168.2 811.0,168.3 817.0,168.3 823.0,168.4 829.0,168.4 835.0,168.5 841.0,168.5 847.0,168.6 853.0,168.7 859.0,168.8 865.0,168.9 871.0,169.0 877.0,169.1 883.0,169.3 889.0,169.4 895.0,169.5 901.0,169.6 907.0,169.8 913.0,169.9 919.0,170.1 925.0,170.2 931.0,170.4 937.0,170.5 943.0,170.7 949.0,171.0 955.0,171.2 961.0,171.5 967.0,171.6 973.0,171.6" fill="none" stroke="#fff" stroke-width="1.2" stroke-opacity="0.035" stroke-linecap="butt" stroke-linejoin="round"/>
<polyline points="82.0,171.1 157.0,171.1" fill="none" stroke="#fff" stroke-width="1.2" stroke-opacity="0.040" stroke-linecap="butt" stroke-linejoin="round"/>
<polyline points="607.0,176.8 613.0,178.1 619.0,179.6 625.0,180.1 631.0,180.5 637.0,180.8 643.0,181.2 649.0,181.5 655.0,181.9 661.0,182.2 667.0,182.2 673.0,182.3 679.0,182.3 685.0,182.3 691.0,182.4 697.0,182.4" fill="none" stroke="#fff" stroke-width="1.2" stroke-opacity="0.090" stroke-linecap="butt" stroke-linejoin="round"/>
<polyline points="697.0,182.4 703.0,182.4 709.0,182.5 715.0,182.5 721.0,182.6 727.0,182.6 733.0,182.7 739.0,182.7 745.0,182.8 751.0,182.8 757.0,182.9 763.0,183.0 769.0,183.0 775.0,183.1 781.0,183.2 787.0,183.2 793.0,183.3 799.0,183.4" fill="none" stroke="#fff" stroke-width="1.2" stroke-opacity="0.055" stroke-linecap="butt" stroke-linejoin="round"/>
<polyline points="799.0,183.4 805.0,183.4 811.0,183.5 817.0,183.5 823.0,183.6 829.0,183.6 835.0,183.7 841.0,183.7 847.0,183.8 853.0,183.9 859.0,184.0 865.0,184.1 871.0,184.2 877.0,184.3 883.0,184.5 889.0,184.6 895.0,184.7 901.0,184.8 907.0,185.0 913.0,185.1 919.0,185.3 925.0,185.4 931.0,185.6 937.0,185.7 943.0,185.9 949.0,186.2 955.0,186.4 961.0,186.7 967.0,186.8 973.0,186.8" fill="none" stroke="#fff" stroke-width="1.2" stroke-opacity="0.035" stroke-linecap="butt" stroke-linejoin="round"/>
<polyline points="82.0,186.3 157.0,186.3" fill="none" stroke="#fff" stroke-width="1.2" stroke-opacity="0.040" stroke-linecap="butt" stroke-linejoin="round"/>
<polyline points="607.0,192.0 613.0,193.2 619.0,194.8 625.0,195.3 631.0,195.7 637.0,196.0 643.0,196.4 649.0,196.7 655.0,197.1 661.0,197.4 667.0,197.4 673.0,197.5 679.0,197.5 685.0,197.5 691.0,197.6 697.0,197.6" fill="none" stroke="#fff" stroke-width="1.2" stroke-opacity="0.090" stroke-linecap="butt" stroke-linejoin="round"/>
<polyline points="697.0,197.6 703.0,197.6 709.0,197.7 715.0,197.7 721.0,197.8 727.0,197.8 733.0,197.9 739.0,197.9 745.0,198.0 751.0,198.0 757.0,198.1 763.0,198.2 769.0,198.2 775.0,198.3 781.0,198.4 787.0,198.4 793.0,198.5 799.0,198.6" fill="none" stroke="#fff" stroke-width="1.2" stroke-opacity="0.055" stroke-linecap="butt" stroke-linejoin="round"/>
<polyline points="799.0,198.6 805.0,198.6 811.0,198.7 817.0,198.7 823.0,198.8 829.0,198.8 835.0,198.9 841.0,198.9 847.0,199.0 853.0,199.1 859.0,199.2 865.0,199.3 871.0,199.4 877.0,199.5 883.0,199.7 889.0,199.8 895.0,199.9 901.0,200.0 907.0,200.2 913.0,200.3 919.0,200.5 925.0,200.6 931.0,200.8 937.0,200.9 943.0,201.1 949.0,201.4 955.0,201.6 961.0,201.9 967.0,202.0 973.0,202.0" fill="none" stroke="#fff" stroke-width="1.2" stroke-opacity="0.035" stroke-linecap="butt" stroke-linejoin="round"/>
<polyline points="82.0,201.5 157.0,201.5" fill="none" stroke="#fff" stroke-width="1.2" stroke-opacity="0.040" stroke-linecap="butt" stroke-linejoin="round"/>
</g>
<polyline points="83.0,125.0 88.0,125.0 92.0,125.4 95.0,124.6 98.0,126.6 100.0,127.4 104.0,127.0 107.0,126.0 110.0,125.4 113.0,125.6 116.0,125.4 120.0,126.0 123.0,125.4 125.0,123.0 127.0,121.0 129.0,120.4 131.0,122.0 133.0,124.0 136.0,126.0 139.0,127.0 142.0,126.6 145.0,125.0 148.0,123.4 150.0,123.6 151.6,125.4 152.4,127.2 154.0,126.6 157.0,126.0 160.0,125.6 163.0,126.6" fill="none" stroke="#ff1800" stroke-width="1.0" stroke-opacity="0.90" stroke-linejoin="round" stroke-dasharray="7 0.8 11 1.2 4 0.7 16 1 9 1.4 5 0.6"/>
<polyline points="607.6,116.0 609.0,114.0 611.0,115.0 613.0,117.4 616.0,118.6 620.0,119.0 624.0,118.6 630.0,119.0 636.0,120.0 642.0,120.6 648.0,121.0 654.0,121.4 660.0,121.4 664.0,121.4 668.3,121.3 673.3,121.8 676.4,121.9 680.8,121.3 684.5,121.5 688.6,121.3 692.7,121.5 697.1,121.3 700.3,121.2 705.2,121.8 708.3,121.6 711.9,122.0 715.9,121.7 720.2,121.7 724.6,121.8 728.6,122.1 732.8,121.9 735.9,121.8 740.0,122.2 743.6,121.6 746.7,122.1 750.4,122.2 754.4,122.4 758.3,122.1 761.6,122.1 764.8,122.4 768.6,122.1 772.3,122.2 776.4,122.2 780.5,122.4 783.9,122.8 788.0,122.3 792.2,122.5 796.9,122.2 800.1,123.0 803.2,122.7 807.3,122.6 812.1,123.0 816.4,123.0 821.2,122.4 825.3,122.8 828.6,122.5 831.7,123.1 835.7,123.2 840.2,122.6 844.7,122.6 849.6,122.6 852.6,123.3 856.7,123.0 860.0,123.0 864.0,123.6 867.4,123.4 872.1,123.3 876.1,123.6 880.2,123.5 883.7,123.9 887.6,124.0 891.6,123.7 894.8,123.6 899.7,124.0 903.2,124.0 906.5,124.0 910.4,124.0 915.0,124.5 918.3,124.8 921.9,124.4 926.7,124.8 931.3,124.5 934.5,125.1 939.0,124.6 943.5,124.9 948.2,125.6 951.4,125.8 955.1,125.7 959.1,126.2 963.5,126.2 966.5,126.3 969.9,126.0" fill="none" stroke="#ff1800" stroke-width="1.0" stroke-opacity="0.90" stroke-linejoin="round" stroke-dasharray="7 0.8 11 1.2 4 0.7 16 1 9 1.4 5 0.6"/>
</g>
<g id="ax1">
<line class="grid" x1="157.5" y1="201.6" x2="157.5" y2="49.4"/>
<line class="tick" x1="157.5" y1="201.6" x2="157.5" y2="196.0"/>
<line class="tick" x1="157.5" y1="49.4" x2="157.5" y2="55.0"/>
<text class="t12" transform="translate(157.00,220.10) scale(0.950,1.050)" text-anchor="middle" xml:space="preserve">02</text>
<line class="grid" x1="232.5" y1="201.6" x2="232.5" y2="49.4"/>
<line class="tick" x1="232.5" y1="201.6" x2="232.5" y2="196.0"/>
<line class="tick" x1="232.5" y1="49.4" x2="232.5" y2="55.0"/>
<text class="t12" transform="translate(232.00,220.10) scale(0.950,1.050)" text-anchor="middle" xml:space="preserve">04</text>
<line class="grid" x1="307.5" y1="201.6" x2="307.5" y2="49.4"/>
<line class="tick" x1="307.5" y1="201.6" x2="307.5" y2="196.0"/>
<line class="tick" x1="307.5" y1="49.4" x2="307.5" y2="55.0"/>
<text class="t12" transform="translate(307.00,220.10) scale(0.950,1.050)" text-anchor="middle" xml:space="preserve">06</text>
<line class="grid" x1="381.5" y1="201.6" x2="381.5" y2="49.4"/>
<line class="tick" x1="381.5" y1="201.6" x2="381.5" y2="196.0"/>
<line class="tick" x1="381.5" y1="49.4" x2="381.5" y2="55.0"/>
<text class="t12" transform="translate(381.00,220.10) scale(0.950,1.050)" text-anchor="middle" xml:space="preserve">08</text>
<line class="grid" x1="456.5" y1="201.6" x2="456.5" y2="49.4"/>
<line class="tick" x1="456.5" y1="201.6" x2="456.5" y2="196.0"/>
<line class="tick" x1="456.5" y1="49.4" x2="456.5" y2="55.0"/>
<text class="t12" transform="translate(456.00,220.10) scale(0.950,1.050)" text-anchor="middle" xml:space="preserve">10</text>
<line class="grid" x1="531.5" y1="201.6" x2="531.5" y2="49.4"/>
<line class="tick" x1="531.5" y1="201.6" x2="531.5" y2="196.0"/>
<line class="tick" x1="531.5" y1="49.4" x2="531.5" y2="55.0"/>
<text class="t12" transform="translate(531.00,220.10) scale(0.950,1.050)" text-anchor="middle" xml:space="preserve">12</text>
<line class="grid" x1="606.5" y1="201.6" x2="606.5" y2="49.4"/>
<line class="tick" x1="606.5" y1="201.6" x2="606.5" y2="196.0"/>
<line class="tick" x1="606.5" y1="49.4" x2="606.5" y2="55.0"/>
<text class="t12" transform="translate(606.00,220.10) scale(0.950,1.050)" text-anchor="middle" xml:space="preserve">14</text>
<line class="grid" x1="681.5" y1="201.6" x2="681.5" y2="49.4"/>
<line class="tick" x1="681.5" y1="201.6" x2="681.5" y2="196.0"/>
<line class="tick" x1="681.5" y1="49.4" x2="681.5" y2="55.0"/>
<text class="t12" transform="translate(681.00,220.10) scale(0.950,1.050)" text-anchor="middle" xml:space="preserve">16</text>
<line class="grid" x1="755.5" y1="201.6" x2="755.5" y2="49.4"/>
<line class="tick" x1="755.5" y1="201.6" x2="755.5" y2="196.0"/>
<line class="tick" x1="755.5" y1="49.4" x2="755.5" y2="55.0"/>
<text class="t12" transform="translate(755.00,220.10) scale(0.950,1.050)" text-anchor="middle" xml:space="preserve">18</text>
<line class="grid" x1="830.5" y1="201.6" x2="830.5" y2="49.4"/>
<line class="tick" x1="830.5" y1="201.6" x2="830.5" y2="196.0"/>
<line class="tick" x1="830.5" y1="49.4" x2="830.5" y2="55.0"/>
<text class="t12" transform="translate(830.00,220.10) scale(0.950,1.050)" text-anchor="middle" xml:space="preserve">20</text>
<line class="grid" x1="905.5" y1="201.6" x2="905.5" y2="49.4"/>
<line class="tick" x1="905.5" y1="201.6" x2="905.5" y2="196.0"/>
<line class="tick" x1="905.5" y1="49.4" x2="905.5" y2="55.0"/>
<text class="t12" transform="translate(905.00,220.10) scale(0.950,1.050)" text-anchor="middle" xml:space="preserve">22</text>
<text class="t12" transform="translate(77.50,206.20) scale(0.970,1.050)" text-anchor="end" xml:space="preserve">-5</text>
<line class="grid" x1="82.5" y1="186.5" x2="971.5" y2="186.5"/>
<line class="tick" x1="82.5" y1="186.5" x2="88.1" y2="186.5"/>
<line class="tick" x1="971.5" y1="186.5" x2="965.9" y2="186.5"/>
<text class="t12" transform="translate(77.50,191.00) scale(0.970,1.050)" text-anchor="end" xml:space="preserve">-4</text>
<line class="grid" x1="82.5" y1="171.5" x2="971.5" y2="171.5"/>
<line class="tick" x1="82.5" y1="171.5" x2="88.1" y2="171.5"/>
<line class="tick" x1="971.5" y1="171.5" x2="965.9" y2="171.5"/>
<text class="t12" transform="translate(77.50,175.80) scale(0.970,1.050)" text-anchor="end" xml:space="preserve">-3</text>
<line class="grid" x1="82.5" y1="156.5" x2="971.5" y2="156.5"/>
<line class="tick" x1="82.5" y1="156.5" x2="88.1" y2="156.5"/>
<line class="tick" x1="971.5" y1="156.5" x2="965.9" y2="156.5"/>
<text class="t12" transform="translate(77.50,160.60) scale(0.970,1.050)" text-anchor="end" xml:space="preserve">-2</text>
<line class="grid" x1="82.5" y1="140.5" x2="971.5" y2="140.5"/>
<line class="tick" x1="82.5" y1="140.5" x2="88.1" y2="140.5"/>
<line class="tick" x1="971.5" y1="140.5" x2="965.9" y2="140.5"/>
<text class="t12" transform="translate(77.50,145.40) scale(0.970,1.050)" text-anchor="end" xml:space="preserve">-1</text>
<line class="grid" x1="82.5" y1="125.5" x2="971.5" y2="125.5"/>
<line class="tick" x1="82.5" y1="125.5" x2="88.1" y2="125.5"/>
<line class="tick" x1="971.5" y1="125.5" x2="965.9" y2="125.5"/>
<text class="t12" transform="translate(77.50,130.20) scale(0.970,1.050)" text-anchor="end" xml:space="preserve">0</text>
<line class="grid" x1="82.5" y1="110.5" x2="971.5" y2="110.5"/>
<line class="tick" x1="82.5" y1="110.5" x2="88.1" y2="110.5"/>
<line class="tick" x1="971.5" y1="110.5" x2="965.9" y2="110.5"/>
<text class="t12" transform="translate(77.50,115.00) scale(0.970,1.050)" text-anchor="end" xml:space="preserve">1</text>
<line class="grid" x1="82.5" y1="95.5" x2="971.5" y2="95.5"/>
<line class="tick" x1="82.5" y1="95.5" x2="88.1" y2="95.5"/>
<line class="tick" x1="971.5" y1="95.5" x2="965.9" y2="95.5"/>
<text class="t12" transform="translate(77.50,99.80) scale(0.970,1.050)" text-anchor="end" xml:space="preserve">2</text>
<line class="grid" x1="82.5" y1="80.5" x2="971.5" y2="80.5"/>
<line class="tick" x1="82.5" y1="80.5" x2="88.1" y2="80.5"/>
<line class="tick" x1="971.5" y1="80.5" x2="965.9" y2="80.5"/>
<text class="t12" transform="translate(77.50,84.60) scale(0.970,1.050)" text-anchor="end" xml:space="preserve">3</text>
<line class="grid" x1="82.5" y1="64.5" x2="971.5" y2="64.5"/>
<line class="tick" x1="82.5" y1="64.5" x2="88.1" y2="64.5"/>
<line class="tick" x1="971.5" y1="64.5" x2="965.9" y2="64.5"/>
<text class="t12" transform="translate(77.50,69.40) scale(0.970,1.050)" text-anchor="end" xml:space="preserve">4</text>
<rect class="spine" x="82.5" y="49.4" width="889.0" height="152.2"/>
<text class="t12" transform="translate(527.00,245.00) scale(1.000,1.040)" text-anchor="middle" xml:space="preserve">Hours, UTC</text>
<text class="t12" transform="translate(47.60,125.50) rotate(-90) scale(1.000,1.050)" text-anchor="middle" xml:space="preserve">Doppler Shift (Hz)</text>
</g>
<g id="ax2">
<text class="t14" transform="translate(526.30,279.00) scale(1.003,1.000)" text-anchor="middle" xml:space="preserve">Peak Amplitude by Minute</text>
<text class="t12" transform="translate(82.10,457.00) scale(0.950,1.050)" text-anchor="middle" xml:space="preserve">00</text>
<line class="grid" x1="156.5" y1="437.4" x2="156.5" y2="286.5"/>
<line class="tick" x1="156.5" y1="437.4" x2="156.5" y2="431.8"/>
<line class="tick" x1="156.5" y1="286.5" x2="156.5" y2="292.1"/>
<text class="t12" transform="translate(156.00,457.00) scale(0.950,1.050)" text-anchor="middle" xml:space="preserve">02</text>
<line class="grid" x1="230.5" y1="437.4" x2="230.5" y2="286.5"/>
<line class="tick" x1="230.5" y1="437.4" x2="230.5" y2="431.8"/>
<line class="tick" x1="230.5" y1="286.5" x2="230.5" y2="292.1"/>
<text class="t12" transform="translate(230.00,457.00) scale(0.950,1.050)" text-anchor="middle" xml:space="preserve">04</text>
<line class="grid" x1="305.5" y1="437.4" x2="305.5" y2="286.5"/>
<line class="tick" x1="305.5" y1="437.4" x2="305.5" y2="431.8"/>
<line class="tick" x1="305.5" y1="286.5" x2="305.5" y2="292.1"/>
<text class="t12" transform="translate(305.00,457.00) scale(0.950,1.050)" text-anchor="middle" xml:space="preserve">06</text>
<line class="grid" x1="379.5" y1="437.4" x2="379.5" y2="286.5"/>
<line class="tick" x1="379.5" y1="437.4" x2="379.5" y2="431.8"/>
<line class="tick" x1="379.5" y1="286.5" x2="379.5" y2="292.1"/>
<text class="t12" transform="translate(379.00,457.00) scale(0.950,1.050)" text-anchor="middle" xml:space="preserve">08</text>
<line class="grid" x1="453.5" y1="437.4" x2="453.5" y2="286.5"/>
<line class="tick" x1="453.5" y1="437.4" x2="453.5" y2="431.8"/>
<line class="tick" x1="453.5" y1="286.5" x2="453.5" y2="292.1"/>
<text class="t12" transform="translate(453.00,457.00) scale(0.950,1.050)" text-anchor="middle" xml:space="preserve">10</text>
<line class="grid" x1="527.5" y1="437.4" x2="527.5" y2="286.5"/>
<line class="tick" x1="527.5" y1="437.4" x2="527.5" y2="431.8"/>
<line class="tick" x1="527.5" y1="286.5" x2="527.5" y2="292.1"/>
<text class="t12" transform="translate(527.00,457.00) scale(0.950,1.050)" text-anchor="middle" xml:space="preserve">12</text>
<line class="grid" x1="601.5" y1="437.4" x2="601.5" y2="286.5"/>
<line class="tick" x1="601.5" y1="437.4" x2="601.5" y2="431.8"/>
<line class="tick" x1="601.5" y1="286.5" x2="601.5" y2="292.1"/>
<text class="t12" transform="translate(601.00,457.00) scale(0.950,1.050)" text-anchor="middle" xml:space="preserve">14</text>
<line class="grid" x1="675.5" y1="437.4" x2="675.5" y2="286.5"/>
<line class="tick" x1="675.5" y1="437.4" x2="675.5" y2="431.8"/>
<line class="tick" x1="675.5" y1="286.5" x2="675.5" y2="292.1"/>
<text class="t12" transform="translate(675.00,457.00) scale(0.950,1.050)" text-anchor="middle" xml:space="preserve">16</text>
<line class="grid" x1="749.5" y1="437.4" x2="749.5" y2="286.5"/>
<line class="tick" x1="749.5" y1="437.4" x2="749.5" y2="431.8"/>
<line class="tick" x1="749.5" y1="286.5" x2="749.5" y2="292.1"/>
<text class="t12" transform="translate(749.00,457.00) scale(0.950,1.050)" text-anchor="middle" xml:space="preserve">18</text>
<line class="grid" x1="823.5" y1="437.4" x2="823.5" y2="286.5"/>
<line class="tick" x1="823.5" y1="437.4" x2="823.5" y2="431.8"/>
<line class="tick" x1="823.5" y1="286.5" x2="823.5" y2="292.1"/>
<text class="t12" transform="translate(823.00,457.00) scale(0.950,1.050)" text-anchor="middle" xml:space="preserve">20</text>
<line class="grid" x1="897.5" y1="437.4" x2="897.5" y2="286.5"/>
<line class="tick" x1="897.5" y1="437.4" x2="897.5" y2="431.8"/>
<line class="tick" x1="897.5" y1="286.5" x2="897.5" y2="292.1"/>
<text class="t12" transform="translate(897.00,457.00) scale(0.950,1.050)" text-anchor="middle" xml:space="preserve">22</text>
<text class="t12" transform="translate(971.10,457.00) scale(0.950,1.050)" text-anchor="middle" xml:space="preserve">24</text>
<text class="t12" transform="translate(75.80,291.10) scale(0.955,1.050)" text-anchor="end" xml:space="preserve">0</text>
<line class="grid" x1="82.5" y1="318.5" x2="971.5" y2="318.5"/>
<line class="tick" x1="82.5" y1="318.5" x2="88.1" y2="318.5"/>
<line class="tick" x1="971.5" y1="318.5" x2="965.9" y2="318.5"/>
<text class="t12" transform="translate(75.80,322.85) scale(0.955,1.050)" text-anchor="end" xml:space="preserve">−20</text>
<line class="grid" x1="82.5" y1="350.5" x2="971.5" y2="350.5"/>
<line class="tick" x1="82.5" y1="350.5" x2="88.1" y2="350.5"/>
<line class="tick" x1="971.5" y1="350.5" x2="965.9" y2="350.5"/>
<text class="t12" transform="translate(75.80,354.60) scale(0.955,1.050)" text-anchor="end" xml:space="preserve">−40</text>
<line class="grid" x1="82.5" y1="381.5" x2="971.5" y2="381.5"/>
<line class="tick" x1="82.5" y1="381.5" x2="88.1" y2="381.5"/>
<line class="tick" x1="971.5" y1="381.5" x2="965.9" y2="381.5"/>
<text class="t12" transform="translate(75.80,386.35) scale(0.955,1.050)" text-anchor="end" xml:space="preserve">−60</text>
<line class="grid" x1="82.5" y1="413.5" x2="971.5" y2="413.5"/>
<line class="tick" x1="82.5" y1="413.5" x2="88.1" y2="413.5"/>
<line class="tick" x1="971.5" y1="413.5" x2="965.9" y2="413.5"/>
<text class="t12" transform="translate(75.80,418.10) scale(0.955,1.050)" text-anchor="end" xml:space="preserve">−80</text>
<clipPath id="c2"><rect x="82.5" y="286.5" width="889.0" height="150.9"/></clipPath>
<polyline clip-path="url(#c2)" points="82.8,445.0 83.1,371.0 83.5,369.0 85.6,363.4 87.2,364.2 88.8,365.8 90.4,364.2 92.5,362.9 94.1,367.4 95.7,364.2 96.8,367.4 98.1,371.4 100.0,366.6 102.4,365.8 104.0,365.0 105.6,365.5 107.5,360.2 108.8,361.0 110.1,368.7 112.0,363.4 113.6,366.6 115.2,370.6 118.4,369.0 120.0,363.4 122.4,364.2 124.0,357.5 126.4,356.5 128.0,369.0 130.4,370.6 132.8,369.0 135.2,368.2 137.6,367.4 139.2,367.7 140.8,365.0 142.4,365.8 144.8,367.4 146.4,363.4 148.8,362.9 151.2,362.3 152.8,357.0 153.6,378.6 155.2,380.2 158.4,378.6 161.6,377.8 163.7,373.8 164.8,393.0 165.6,394.6 167.2,391.4 168.8,394.6 172.0,397.0 172.8,393.8 174.4,396.2 177.6,397.0 180.0,395.4 181.6,391.4 183.2,393.0 185.6,388.2 187.2,389.8 190.4,386.9 192.8,389.8 194.4,386.3 196.8,387.4 198.4,380.5 200.0,381.8 201.6,390.6 204.8,387.9 206.4,393.0 208.0,389.8 211.2,384.2 214.4,385.8 216.8,385.0 219.2,384.2 220.8,387.4 223.2,381.8 224.8,377.8 225.9,374.6 227.2,381.0 229.6,385.0 232.0,387.4 233.9,387.9 236.3,376.2 237.4,375.4 239.0,384.2 239.8,388.2 241.1,380.2 242.2,387.4 243.8,383.4 245.4,379.4 247.0,377.8 248.6,376.2 251.0,376.2 251.8,382.6 253.4,385.0 255.0,383.4 256.6,384.2 257.4,387.4 259.0,379.4 259.8,378.6 261.4,386.6 263.0,377.0 264.3,370.6 265.4,369.8 266.5,379.4 267.8,379.4 268.6,382.6 270.5,384.2 272.1,391.4 273.4,389.0 274.7,390.6 276.3,381.0 276.9,380.2 277.9,388.2 279.0,394.6 280.6,385.0 281.4,381.8 282.2,389.0 283.0,382.6 284.6,378.6 285.4,385.8 286.5,387.4 288.3,385.8 289.4,389.0 290.7,395.4 291.8,393.8 293.4,390.6 295.0,377.0 296.6,366.6 297.7,366.6 298.7,374.6 299.8,376.2 300.6,386.6 301.4,393.0 303.0,395.4 305.4,397.8 307.8,397.0 308.9,403.4 310.2,397.8 311.8,398.6 313.4,393.0 314.4,392.2 315.5,399.4 316.6,405.0 317.9,409.8 319.8,406.6 322.2,405.8 323.8,405.0 325.4,401.8 326.5,401.0 327.5,408.2 329.4,405.8 330.7,405.0 332.3,401.8 334.2,404.2 336.6,402.6 338.2,401.0 339.3,400.7 340.6,403.4 341.9,402.3 343.5,408.2 344.6,406.6 345.4,410.6 346.7,414.1 347.8,407.4 349.4,404.2 350.5,408.2 351.8,413.0 353.1,413.8 355.0,409.0 356.6,406.1 358.5,408.2 359.8,412.2 361.1,408.2 363.0,409.0 364.9,409.8 367.0,410.6 368.6,413.0 370.7,409.0 372.6,410.6 374.2,411.9 375.8,405.8 377.1,411.4 378.7,408.2 379.8,409.0 380.9,412.2 382.5,402.6 383.8,409.8 385.4,406.6 387.0,406.6 388.9,404.2 390.0,405.5 391.6,406.6 392.4,405.0 393.5,409.0 394.8,406.6 396.4,406.6 398.0,401.8 399.6,401.0 401.2,401.0 403.6,398.6 405.7,399.1 406.8,400.2 408.4,397.0 410.0,394.6 411.6,389.8 412.9,387.4 414.0,390.6 415.3,393.0 416.4,383.4 417.5,382.6 418.8,385.8 419.6,385.8 420.7,391.4 422.0,395.4 423.3,401.0 424.4,404.2 425.5,403.4 426.8,393.0 427.6,387.4 428.4,396.2 429.7,386.6 430.3,393.0 431.6,392.2 432.9,396.2 433.5,388.2 434.8,391.4 435.6,387.4 437.2,385.8 438.8,383.4 439.9,387.4 441.5,389.8 443.1,391.4 444.4,385.8 446.0,385.0 447.3,388.2 448.4,393.0 449.5,389.0 450.5,390.6 451.6,400.2 452.7,401.0 454.0,397.8 455.3,400.2 456.9,398.6 458.5,395.4 460.4,396.2 462.0,400.2 463.3,401.0 465.2,399.4 466.8,397.8 468.1,394.6 469.2,397.8 470.8,400.2 471.9,396.2 473.2,391.4 474.8,390.6 476.4,387.4 477.2,388.2 478.0,396.2 479.3,391.4 480.4,385.8 481.5,387.4 482.5,392.2 484.1,392.2 485.2,388.2 486.0,393.8 486.8,389.8 487.9,394.6 488.9,393.0 490.0,399.4 491.1,393.0 492.4,393.0 493.7,397.0 494.8,394.6 495.9,390.6 497.2,388.2 498.8,386.6 500.4,387.4 502.0,385.0 503.3,385.0 504.4,390.6 505.2,396.2 506.5,389.0 507.6,384.2 508.7,383.4 509.7,392.2 510.8,389.8 511.9,390.6 513.2,385.8 514.5,387.4 515.6,389.8 516.7,382.6 517.7,387.4 518.8,385.0 519.9,386.6 520.9,391.4 522.0,387.4 523.6,387.4 525.2,385.0 526.8,389.8 527.9,389.0 529.2,387.9 530.8,389.8 532.4,389.0 534.0,389.8 535.3,385.8 536.4,390.6 538.0,393.0 539.6,390.6 540.7,395.4 542.0,385.0 542.8,376.2 544.1,376.2 545.0,383.4 545.8,391.4 546.9,387.4 548.2,388.2 549.5,377.0 550.6,376.2 551.7,388.2 553.0,387.4 554.0,394.6 554.9,390.6 556.2,393.0 557.5,386.6 558.6,383.4 560.2,385.0 561.8,386.6 562.9,389.0 564.2,385.8 565.8,381.8 567.4,381.0 568.7,385.8 570.3,381.8 571.4,385.0 572.5,379.4 573.8,378.6 575.1,381.8 576.2,375.4 577.5,373.0 578.6,384.2 579.4,385.0 580.5,377.0 582.1,373.8 583.4,373.8 585.0,376.2 586.6,379.4 588.2,374.6 589.5,372.2 590.6,380.2 592.2,379.4 593.3,379.4 594.3,384.2 594.9,393.0 595.4,401.0 597.0,402.6 598.6,404.2 599.7,406.6 600.7,402.6 601.8,405.8 602.9,397.8 604.2,396.2 605.8,393.0 606.6,373.8 607.4,365.8 608.2,373.0 609.5,373.8 610.6,377.8 611.4,355.4 612.2,354.6 613.0,362.6 613.8,365.0 616.2,365.8 617.8,367.1 620.2,366.6 621.8,367.4 623.4,369.0 625.0,368.7 626.9,369.3 628.5,369.0 630.6,367.7 632.2,368.2 633.8,365.8 635.4,365.8 637.0,369.0 638.6,371.4 640.7,369.0 642.6,368.7 644.2,368.7 645.8,369.8 648.2,369.0 650.6,369.3 652.2,368.2 655.1,367.7 655.4,374.6 658.3,374.6 658.6,365.8 660.2,365.5 661.8,366.6 663.1,365.0 663.7,370.6 665.0,369.8 666.3,363.4 667.9,361.3 669.0,361.8 670.1,365.0 671.4,364.5 672.7,365.5 674.3,367.1 675.9,363.9 677.0,363.9 678.6,365.5 680.7,364.5 681.8,369.0 682.9,370.9 684.2,370.3 685.5,371.9 686.6,368.2 687.4,372.2 689.0,367.1 690.3,369.0 691.4,369.8 692.5,362.9 693.8,362.9 695.1,370.6 695.7,372.2 697.0,369.3 698.6,369.8 700.0,373.8 701.6,371.4 703.2,369.8 704.0,374.6 705.1,369.8 706.4,374.6 707.7,369.0 709.3,370.6 710.9,369.3 712.5,369.0 713.6,371.4 714.7,363.9 715.7,362.9 716.8,366.6 717.9,377.0 718.9,370.6 720.0,366.6 721.1,365.8 722.4,368.2 723.7,362.6 724.8,362.3 725.9,365.0 728.0,365.5 729.6,365.8 730.4,368.2 731.7,367.7 732.8,370.9 734.4,370.6 736.0,371.4 737.6,372.2 739.2,371.9 740.8,369.0 741.9,369.0 742.9,372.2 744.5,370.6 746.1,368.7 747.7,369.8 749.3,370.9 750.4,369.0 751.5,366.1 752.5,373.0 753.6,378.3 754.7,373.8 756.0,368.2 756.8,367.4 757.9,372.2 758.9,374.6 760.0,370.6 761.1,369.0 762.4,371.4 763.2,369.8 764.3,374.6 765.6,370.6 766.9,369.0 768.0,370.6 769.1,365.8 770.4,373.0 771.7,367.4 772.8,369.0 773.9,370.3 775.2,372.2 776.5,368.2 777.6,361.8 778.4,361.8 779.4,365.8 780.3,374.6 781.3,375.4 782.4,366.6 783.5,367.4 784.8,367.1 785.6,373.0 786.4,376.7 787.7,373.8 788.8,367.4 789.9,369.0 791.2,365.0 792.5,367.4 793.6,365.8 794.7,367.1 796.0,365.5 796.8,373.0 797.9,369.0 799.2,365.0 800.5,360.2 801.3,361.0 802.4,367.4 803.2,376.2 804.3,371.4 805.3,365.5 806.4,366.6 807.5,370.6 808.8,364.2 809.8,362.6 810.7,365.0 812.0,366.6 813.3,367.4 814.4,370.9 815.5,361.0 816.5,369.0 817.6,363.4 818.7,371.4 820.0,367.4 820.8,369.0 821.9,364.2 823.2,363.9 824.5,365.0 825.6,365.8 826.7,370.6 828.0,369.0 829.3,365.8 830.4,364.2 831.5,367.4 832.8,370.3 834.1,367.4 835.7,366.6 837.3,365.8 838.9,367.4 840.0,365.0 841.3,367.4 842.4,374.6 843.5,369.0 844.8,365.8 846.4,364.2 848.0,365.0 849.3,366.6 850.4,370.6 851.5,373.5 852.8,367.4 854.1,364.5 855.7,364.2 857.3,362.9 858.4,362.3 859.5,369.0 860.5,364.2 861.6,369.0 862.7,368.2 863.7,373.5 864.8,369.0 865.6,371.4 866.9,364.2 868.0,369.8 869.1,365.8 870.4,365.0 871.7,366.6 872.8,367.4 873.9,369.8 875.2,371.4 876.0,376.2 877.1,373.8 878.4,374.6 879.7,373.8 880.8,369.8 881.9,372.2 883.2,377.0 884.5,374.6 885.6,373.8 886.7,368.2 887.7,367.4 888.8,369.8 889.9,367.4 890.9,369.0 892.0,361.8 893.1,365.0 894.1,366.6 895.2,373.5 896.3,369.0 897.3,367.4 898.4,365.8 899.5,365.0 900.5,362.9 901.6,374.6 902.7,369.0 904.0,363.9 905.3,369.0 906.4,367.4 907.5,365.0 908.5,369.0 909.6,372.2 910.7,365.8 911.7,365.0 912.8,372.2 913.9,374.1 916.0,373.8 917.1,365.8 918.7,366.6 920.0,369.0 921.6,369.8 922.9,369.0 924.0,365.8 925.1,369.8 926.4,370.6 927.7,361.0 928.8,360.2 929.9,362.6 931.2,364.2 932.2,369.0 933.1,377.0 934.4,368.2 935.7,364.2 936.8,365.8 937.9,370.6 939.2,369.8 940.8,369.0 942.1,370.3 943.2,365.8 944.3,367.4 945.6,369.0 946.9,368.2 948.0,371.4 949.1,377.8 950.4,373.8 951.7,367.4 952.8,362.6 953.9,369.0 955.2,371.4 956.5,373.0 957.9,378.3 959.2,366.6 960.0,369.8 961.3,362.6 962.4,361.8 963.5,367.4 964.8,365.8 966.1,364.2 967.2,367.4 968.3,365.0 969.3,361.8 969.9,361.0 970.4,354.6 971.1,330.0 971.3,286.5" fill="none" stroke="#00f" stroke-width="1.35" stroke-linejoin="round"/>
<rect class="spine" x="82.5" y="286.5" width="889.0" height="150.9"/>
<text class="t12" transform="translate(527.00,481.90) scale(1.000,1.040)" text-anchor="middle" xml:space="preserve">Hours, UTC</text>
<text class="t12" transform="translate(30.40,361.95) rotate(-90) scale(1.000,1.050)" text-anchor="middle" xml:space="preserve">Amplitude, dBm</text>
</g>
</svg></body></html>
